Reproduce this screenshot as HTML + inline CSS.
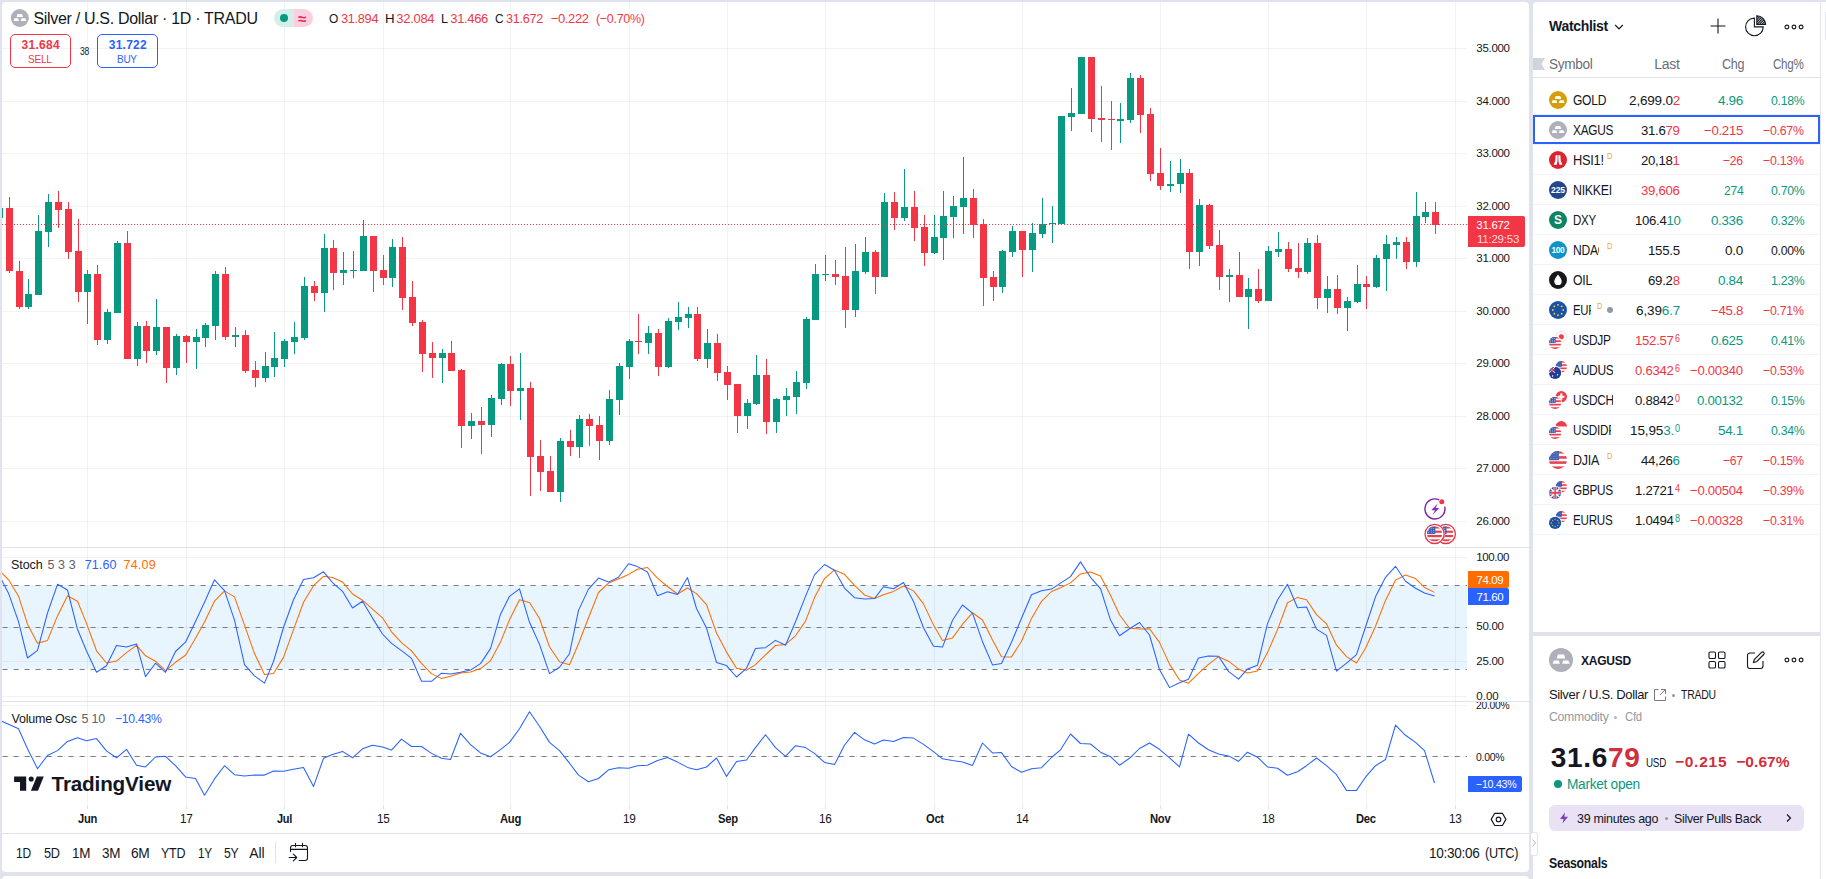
<!DOCTYPE html><html><head><meta charset="utf-8"><title>XAGUSD</title><style>
*{margin:0;padding:0;box-sizing:border-box}
html,body{width:1826px;height:879px;overflow:hidden}
body{background:#e0e3eb;font-family:"Liberation Sans",sans-serif;color:#131722;position:relative;font-size:13px}
.abs{position:absolute}
.t{position:absolute;white-space:nowrap}
.panel{position:absolute;background:#fff}
.box{position:absolute}
</style></head><body>
<div class="panel" style="left:2px;top:2px;width:1527px;height:870px;border-radius:4px;overflow:hidden" id="chart">
<svg width="1465" height="832" viewBox="2 2 1465 832" style="position:absolute;left:0;top:0">
<rect x="87" y="2" width="1" height="802" fill="rgba(42,46,57,0.06)"/>
<rect x="186" y="2" width="1" height="802" fill="rgba(42,46,57,0.06)"/>
<rect x="284" y="2" width="1" height="802" fill="rgba(42,46,57,0.06)"/>
<rect x="383" y="2" width="1" height="802" fill="rgba(42,46,57,0.06)"/>
<rect x="510" y="2" width="1" height="802" fill="rgba(42,46,57,0.06)"/>
<rect x="629" y="2" width="1" height="802" fill="rgba(42,46,57,0.06)"/>
<rect x="727" y="2" width="1" height="802" fill="rgba(42,46,57,0.06)"/>
<rect x="825" y="2" width="1" height="802" fill="rgba(42,46,57,0.06)"/>
<rect x="934" y="2" width="1" height="802" fill="rgba(42,46,57,0.06)"/>
<rect x="1022" y="2" width="1" height="802" fill="rgba(42,46,57,0.06)"/>
<rect x="1160" y="2" width="1" height="802" fill="rgba(42,46,57,0.06)"/>
<rect x="1268" y="2" width="1" height="802" fill="rgba(42,46,57,0.06)"/>
<rect x="1366" y="2" width="1" height="802" fill="rgba(42,46,57,0.06)"/>
<rect x="1455" y="2" width="1" height="802" fill="rgba(42,46,57,0.06)"/>
<rect x="2" y="48" width="1465" height="1" fill="rgba(42,46,57,0.06)"/>
<rect x="2" y="101" width="1465" height="1" fill="rgba(42,46,57,0.06)"/>
<rect x="2" y="153" width="1465" height="1" fill="rgba(42,46,57,0.06)"/>
<rect x="2" y="206" width="1465" height="1" fill="rgba(42,46,57,0.06)"/>
<rect x="2" y="258" width="1465" height="1" fill="rgba(42,46,57,0.06)"/>
<rect x="2" y="311" width="1465" height="1" fill="rgba(42,46,57,0.06)"/>
<rect x="2" y="363" width="1465" height="1" fill="rgba(42,46,57,0.06)"/>
<rect x="2" y="416" width="1465" height="1" fill="rgba(42,46,57,0.06)"/>
<rect x="2" y="468" width="1465" height="1" fill="rgba(42,46,57,0.06)"/>
<rect x="2" y="521" width="1465" height="1" fill="rgba(42,46,57,0.06)"/>
<rect x="2" y="557" width="1465" height="1" fill="rgba(42,46,57,0.06)"/>
<rect x="2" y="627" width="1465" height="1" fill="rgba(42,46,57,0.06)"/>
<rect x="2" y="661" width="1465" height="1" fill="rgba(42,46,57,0.06)"/>
<rect x="2" y="696" width="1465" height="1" fill="rgba(42,46,57,0.06)"/>
<rect x="2" y="705" width="1465" height="1" fill="rgba(42,46,57,0.06)"/>
<rect x="2" y="756" width="1465" height="1" fill="rgba(42,46,57,0.06)"/>
<rect x="2" y="585" width="1465" height="84" fill="rgba(33,150,243,0.1)"/>
<line x1="2.6" x2="1467" y1="585.5" y2="585.5" stroke="#787b86" stroke-width="1" stroke-dasharray="5 6"/>
<line x1="2.6" x2="1467" y1="627.5" y2="627.5" stroke="#787b86" stroke-width="1" stroke-dasharray="5 6"/>
<line x1="2.6" x2="1467" y1="669.5" y2="669.5" stroke="#787b86" stroke-width="1" stroke-dasharray="5 6"/>
<line x1="2.6" x2="1467" y1="756.5" y2="756.5" stroke="#787b86" stroke-width="1" stroke-dasharray="5 6"/>
<rect x="-1" y="207" width="1" height="13" fill="#089981"/>
<rect x="-4" y="208" width="7" height="10" fill="#089981"/>
<rect x="9" y="197" width="1" height="76" fill="#f23645"/>
<rect x="6" y="208" width="7" height="63" fill="#f23645"/>
<rect x="19" y="261" width="1" height="48" fill="#f23645"/>
<rect x="16" y="271" width="7" height="36" fill="#f23645"/>
<rect x="28" y="279" width="1" height="30" fill="#089981"/>
<rect x="25" y="294" width="7" height="13" fill="#089981"/>
<rect x="38" y="215" width="1" height="80" fill="#089981"/>
<rect x="35" y="231" width="7" height="64" fill="#089981"/>
<rect x="48" y="194" width="1" height="53" fill="#089981"/>
<rect x="45" y="202" width="7" height="30" fill="#089981"/>
<rect x="58" y="191" width="1" height="37" fill="#f23645"/>
<rect x="55" y="202" width="7" height="8" fill="#f23645"/>
<rect x="68" y="202" width="1" height="57" fill="#f23645"/>
<rect x="65" y="209" width="7" height="43" fill="#f23645"/>
<rect x="78" y="219" width="1" height="83" fill="#f23645"/>
<rect x="75" y="251" width="7" height="41" fill="#f23645"/>
<rect x="87" y="270" width="1" height="54" fill="#089981"/>
<rect x="84" y="274" width="7" height="18" fill="#089981"/>
<rect x="97" y="265" width="1" height="80" fill="#f23645"/>
<rect x="94" y="274" width="7" height="66" fill="#f23645"/>
<rect x="107" y="309" width="1" height="35" fill="#089981"/>
<rect x="104" y="312" width="7" height="28" fill="#089981"/>
<rect x="117" y="241" width="1" height="72" fill="#089981"/>
<rect x="114" y="243" width="7" height="70" fill="#089981"/>
<rect x="127" y="231" width="1" height="128" fill="#f23645"/>
<rect x="124" y="243" width="7" height="116" fill="#f23645"/>
<rect x="137" y="322" width="1" height="44" fill="#089981"/>
<rect x="134" y="326" width="7" height="33" fill="#089981"/>
<rect x="146" y="321" width="1" height="42" fill="#f23645"/>
<rect x="143" y="326" width="7" height="25" fill="#f23645"/>
<rect x="156" y="299" width="1" height="56" fill="#089981"/>
<rect x="153" y="327" width="7" height="24" fill="#089981"/>
<rect x="166" y="327" width="1" height="56" fill="#f23645"/>
<rect x="163" y="327" width="7" height="41" fill="#f23645"/>
<rect x="176" y="334" width="1" height="41" fill="#089981"/>
<rect x="173" y="336" width="7" height="32" fill="#089981"/>
<rect x="186" y="335" width="1" height="28" fill="#f23645"/>
<rect x="183" y="336" width="7" height="6" fill="#f23645"/>
<rect x="196" y="329" width="1" height="40" fill="#089981"/>
<rect x="193" y="337" width="7" height="5" fill="#089981"/>
<rect x="205" y="323" width="1" height="24" fill="#089981"/>
<rect x="202" y="325" width="7" height="13" fill="#089981"/>
<rect x="215" y="271" width="1" height="69" fill="#089981"/>
<rect x="212" y="274" width="7" height="52" fill="#089981"/>
<rect x="225" y="267" width="1" height="73" fill="#f23645"/>
<rect x="222" y="274" width="7" height="63" fill="#f23645"/>
<rect x="235" y="327" width="1" height="20" fill="#089981"/>
<rect x="232" y="335" width="7" height="2" fill="#089981"/>
<rect x="245" y="330" width="1" height="43" fill="#f23645"/>
<rect x="242" y="335" width="7" height="36" fill="#f23645"/>
<rect x="255" y="361" width="1" height="26" fill="#f23645"/>
<rect x="252" y="370" width="7" height="8" fill="#f23645"/>
<rect x="265" y="352" width="1" height="30" fill="#089981"/>
<rect x="262" y="366" width="7" height="12" fill="#089981"/>
<rect x="274" y="332" width="1" height="45" fill="#089981"/>
<rect x="271" y="358" width="7" height="9" fill="#089981"/>
<rect x="284" y="339" width="1" height="28" fill="#089981"/>
<rect x="281" y="341" width="7" height="18" fill="#089981"/>
<rect x="294" y="322" width="1" height="32" fill="#089981"/>
<rect x="291" y="337" width="7" height="5" fill="#089981"/>
<rect x="304" y="277" width="1" height="63" fill="#089981"/>
<rect x="301" y="286" width="7" height="52" fill="#089981"/>
<rect x="314" y="281" width="1" height="20" fill="#f23645"/>
<rect x="311" y="286" width="7" height="7" fill="#f23645"/>
<rect x="324" y="234" width="1" height="78" fill="#089981"/>
<rect x="321" y="248" width="7" height="45" fill="#089981"/>
<rect x="333" y="240" width="1" height="50" fill="#f23645"/>
<rect x="330" y="248" width="7" height="25" fill="#f23645"/>
<rect x="343" y="252" width="1" height="33" fill="#089981"/>
<rect x="340" y="270" width="7" height="3" fill="#089981"/>
<rect x="353" y="251" width="1" height="27" fill="#089981"/>
<rect x="350" y="270" width="7" height="1" fill="#089981"/>
<rect x="363" y="220" width="1" height="51" fill="#089981"/>
<rect x="360" y="236" width="7" height="35" fill="#089981"/>
<rect x="373" y="236" width="1" height="56" fill="#f23645"/>
<rect x="370" y="236" width="7" height="35" fill="#f23645"/>
<rect x="383" y="255" width="1" height="30" fill="#f23645"/>
<rect x="380" y="270" width="7" height="8" fill="#f23645"/>
<rect x="392" y="239" width="1" height="48" fill="#089981"/>
<rect x="389" y="247" width="7" height="31" fill="#089981"/>
<rect x="402" y="237" width="1" height="73" fill="#f23645"/>
<rect x="399" y="247" width="7" height="51" fill="#f23645"/>
<rect x="412" y="281" width="1" height="45" fill="#f23645"/>
<rect x="409" y="297" width="7" height="26" fill="#f23645"/>
<rect x="422" y="320" width="1" height="52" fill="#f23645"/>
<rect x="419" y="322" width="7" height="32" fill="#f23645"/>
<rect x="432" y="342" width="1" height="36" fill="#f23645"/>
<rect x="429" y="353" width="7" height="5" fill="#f23645"/>
<rect x="442" y="349" width="1" height="34" fill="#089981"/>
<rect x="439" y="353" width="7" height="5" fill="#089981"/>
<rect x="451" y="341" width="1" height="30" fill="#f23645"/>
<rect x="448" y="353" width="7" height="18" fill="#f23645"/>
<rect x="461" y="369" width="1" height="79" fill="#f23645"/>
<rect x="458" y="370" width="7" height="56" fill="#f23645"/>
<rect x="471" y="413" width="1" height="26" fill="#089981"/>
<rect x="468" y="421" width="7" height="5" fill="#089981"/>
<rect x="481" y="407" width="1" height="47" fill="#f23645"/>
<rect x="478" y="421" width="7" height="4" fill="#f23645"/>
<rect x="491" y="395" width="1" height="42" fill="#089981"/>
<rect x="488" y="398" width="7" height="27" fill="#089981"/>
<rect x="501" y="363" width="1" height="42" fill="#089981"/>
<rect x="498" y="364" width="7" height="35" fill="#089981"/>
<rect x="510" y="356" width="1" height="50" fill="#f23645"/>
<rect x="507" y="364" width="7" height="27" fill="#f23645"/>
<rect x="520" y="353" width="1" height="67" fill="#089981"/>
<rect x="517" y="388" width="7" height="3" fill="#089981"/>
<rect x="530" y="382" width="1" height="114" fill="#f23645"/>
<rect x="527" y="388" width="7" height="69" fill="#f23645"/>
<rect x="540" y="440" width="1" height="51" fill="#f23645"/>
<rect x="537" y="456" width="7" height="16" fill="#f23645"/>
<rect x="550" y="456" width="1" height="36" fill="#f23645"/>
<rect x="547" y="471" width="7" height="21" fill="#f23645"/>
<rect x="560" y="438" width="1" height="64" fill="#089981"/>
<rect x="557" y="441" width="7" height="51" fill="#089981"/>
<rect x="570" y="430" width="1" height="26" fill="#f23645"/>
<rect x="567" y="441" width="7" height="6" fill="#f23645"/>
<rect x="579" y="415" width="1" height="43" fill="#089981"/>
<rect x="576" y="419" width="7" height="28" fill="#089981"/>
<rect x="589" y="414" width="1" height="32" fill="#f23645"/>
<rect x="586" y="419" width="7" height="7" fill="#f23645"/>
<rect x="599" y="416" width="1" height="44" fill="#f23645"/>
<rect x="596" y="425" width="7" height="16" fill="#f23645"/>
<rect x="609" y="390" width="1" height="55" fill="#089981"/>
<rect x="606" y="399" width="7" height="42" fill="#089981"/>
<rect x="619" y="363" width="1" height="52" fill="#089981"/>
<rect x="616" y="366" width="7" height="34" fill="#089981"/>
<rect x="629" y="339" width="1" height="40" fill="#089981"/>
<rect x="626" y="341" width="7" height="26" fill="#089981"/>
<rect x="638" y="314" width="1" height="40" fill="#f23645"/>
<rect x="635" y="341" width="7" height="1" fill="#f23645"/>
<rect x="648" y="326" width="1" height="28" fill="#089981"/>
<rect x="645" y="333" width="7" height="10" fill="#089981"/>
<rect x="658" y="329" width="1" height="47" fill="#f23645"/>
<rect x="655" y="333" width="7" height="34" fill="#f23645"/>
<rect x="668" y="318" width="1" height="50" fill="#089981"/>
<rect x="665" y="321" width="7" height="46" fill="#089981"/>
<rect x="678" y="302" width="1" height="28" fill="#089981"/>
<rect x="675" y="317" width="7" height="5" fill="#089981"/>
<rect x="688" y="307" width="1" height="21" fill="#089981"/>
<rect x="685" y="314" width="7" height="4" fill="#089981"/>
<rect x="697" y="307" width="1" height="54" fill="#f23645"/>
<rect x="694" y="314" width="7" height="45" fill="#f23645"/>
<rect x="707" y="329" width="1" height="39" fill="#089981"/>
<rect x="704" y="343" width="7" height="16" fill="#089981"/>
<rect x="717" y="334" width="1" height="47" fill="#f23645"/>
<rect x="714" y="343" width="7" height="30" fill="#f23645"/>
<rect x="727" y="366" width="1" height="34" fill="#f23645"/>
<rect x="724" y="372" width="7" height="13" fill="#f23645"/>
<rect x="737" y="384" width="1" height="49" fill="#f23645"/>
<rect x="734" y="384" width="7" height="32" fill="#f23645"/>
<rect x="747" y="399" width="1" height="30" fill="#089981"/>
<rect x="744" y="403" width="7" height="13" fill="#089981"/>
<rect x="756" y="355" width="1" height="50" fill="#089981"/>
<rect x="753" y="375" width="7" height="29" fill="#089981"/>
<rect x="766" y="359" width="1" height="75" fill="#f23645"/>
<rect x="763" y="375" width="7" height="47" fill="#f23645"/>
<rect x="776" y="398" width="1" height="35" fill="#089981"/>
<rect x="773" y="399" width="7" height="23" fill="#089981"/>
<rect x="786" y="388" width="1" height="28" fill="#089981"/>
<rect x="783" y="396" width="7" height="4" fill="#089981"/>
<rect x="796" y="371" width="1" height="43" fill="#089981"/>
<rect x="793" y="382" width="7" height="15" fill="#089981"/>
<rect x="806" y="317" width="1" height="72" fill="#089981"/>
<rect x="803" y="319" width="7" height="64" fill="#089981"/>
<rect x="815" y="264" width="1" height="56" fill="#089981"/>
<rect x="812" y="274" width="7" height="46" fill="#089981"/>
<rect x="825" y="255" width="1" height="26" fill="#089981"/>
<rect x="822" y="274" width="7" height="1" fill="#089981"/>
<rect x="835" y="260" width="1" height="25" fill="#f23645"/>
<rect x="832" y="274" width="7" height="3" fill="#f23645"/>
<rect x="845" y="247" width="1" height="81" fill="#f23645"/>
<rect x="842" y="276" width="7" height="34" fill="#f23645"/>
<rect x="855" y="244" width="1" height="73" fill="#089981"/>
<rect x="852" y="271" width="7" height="39" fill="#089981"/>
<rect x="865" y="237" width="1" height="37" fill="#089981"/>
<rect x="862" y="252" width="7" height="20" fill="#089981"/>
<rect x="875" y="250" width="1" height="44" fill="#f23645"/>
<rect x="872" y="252" width="7" height="25" fill="#f23645"/>
<rect x="884" y="193" width="1" height="84" fill="#089981"/>
<rect x="881" y="202" width="7" height="75" fill="#089981"/>
<rect x="894" y="192" width="1" height="38" fill="#f23645"/>
<rect x="891" y="202" width="7" height="16" fill="#f23645"/>
<rect x="904" y="169" width="1" height="52" fill="#089981"/>
<rect x="901" y="207" width="7" height="11" fill="#089981"/>
<rect x="914" y="191" width="1" height="50" fill="#f23645"/>
<rect x="911" y="207" width="7" height="21" fill="#f23645"/>
<rect x="924" y="215" width="1" height="51" fill="#f23645"/>
<rect x="921" y="227" width="7" height="26" fill="#f23645"/>
<rect x="934" y="215" width="1" height="39" fill="#089981"/>
<rect x="931" y="237" width="7" height="16" fill="#089981"/>
<rect x="943" y="191" width="1" height="69" fill="#089981"/>
<rect x="940" y="216" width="7" height="22" fill="#089981"/>
<rect x="953" y="196" width="1" height="42" fill="#089981"/>
<rect x="950" y="206" width="7" height="11" fill="#089981"/>
<rect x="963" y="157" width="1" height="77" fill="#089981"/>
<rect x="960" y="198" width="7" height="9" fill="#089981"/>
<rect x="973" y="189" width="1" height="49" fill="#f23645"/>
<rect x="970" y="198" width="7" height="27" fill="#f23645"/>
<rect x="983" y="219" width="1" height="87" fill="#f23645"/>
<rect x="980" y="224" width="7" height="54" fill="#f23645"/>
<rect x="993" y="271" width="1" height="30" fill="#f23645"/>
<rect x="990" y="277" width="7" height="10" fill="#f23645"/>
<rect x="1002" y="250" width="1" height="43" fill="#089981"/>
<rect x="999" y="251" width="7" height="36" fill="#089981"/>
<rect x="1012" y="226" width="1" height="31" fill="#089981"/>
<rect x="1009" y="231" width="7" height="21" fill="#089981"/>
<rect x="1022" y="231" width="1" height="46" fill="#f23645"/>
<rect x="1019" y="231" width="7" height="19" fill="#f23645"/>
<rect x="1032" y="223" width="1" height="49" fill="#089981"/>
<rect x="1029" y="233" width="7" height="17" fill="#089981"/>
<rect x="1042" y="198" width="1" height="40" fill="#089981"/>
<rect x="1039" y="224" width="7" height="10" fill="#089981"/>
<rect x="1052" y="206" width="1" height="37" fill="#089981"/>
<rect x="1049" y="223" width="7" height="1" fill="#089981"/>
<rect x="1061" y="116" width="1" height="108" fill="#089981"/>
<rect x="1058" y="116" width="7" height="108" fill="#089981"/>
<rect x="1071" y="88" width="1" height="43" fill="#089981"/>
<rect x="1068" y="113" width="7" height="4" fill="#089981"/>
<rect x="1081" y="57" width="1" height="57" fill="#089981"/>
<rect x="1078" y="57" width="7" height="57" fill="#089981"/>
<rect x="1091" y="57" width="1" height="75" fill="#f23645"/>
<rect x="1088" y="57" width="7" height="62" fill="#f23645"/>
<rect x="1101" y="86" width="1" height="56" fill="#f23645"/>
<rect x="1098" y="118" width="7" height="2" fill="#f23645"/>
<rect x="1111" y="101" width="1" height="49" fill="#f23645"/>
<rect x="1108" y="119" width="7" height="1" fill="#f23645"/>
<rect x="1120" y="103" width="1" height="40" fill="#089981"/>
<rect x="1117" y="119" width="7" height="2" fill="#089981"/>
<rect x="1130" y="73" width="1" height="50" fill="#089981"/>
<rect x="1127" y="78" width="7" height="42" fill="#089981"/>
<rect x="1140" y="75" width="1" height="58" fill="#f23645"/>
<rect x="1137" y="78" width="7" height="37" fill="#f23645"/>
<rect x="1150" y="108" width="1" height="73" fill="#f23645"/>
<rect x="1147" y="114" width="7" height="60" fill="#f23645"/>
<rect x="1160" y="148" width="1" height="42" fill="#f23645"/>
<rect x="1157" y="173" width="7" height="13" fill="#f23645"/>
<rect x="1170" y="161" width="1" height="31" fill="#089981"/>
<rect x="1167" y="184" width="7" height="2" fill="#089981"/>
<rect x="1180" y="159" width="1" height="34" fill="#089981"/>
<rect x="1177" y="173" width="7" height="11" fill="#089981"/>
<rect x="1189" y="169" width="1" height="100" fill="#f23645"/>
<rect x="1186" y="173" width="7" height="79" fill="#f23645"/>
<rect x="1199" y="199" width="1" height="67" fill="#089981"/>
<rect x="1196" y="205" width="7" height="47" fill="#089981"/>
<rect x="1209" y="204" width="1" height="45" fill="#f23645"/>
<rect x="1206" y="205" width="7" height="41" fill="#f23645"/>
<rect x="1219" y="230" width="1" height="60" fill="#f23645"/>
<rect x="1216" y="245" width="7" height="32" fill="#f23645"/>
<rect x="1229" y="269" width="1" height="33" fill="#089981"/>
<rect x="1226" y="275" width="7" height="2" fill="#089981"/>
<rect x="1239" y="252" width="1" height="45" fill="#f23645"/>
<rect x="1236" y="275" width="7" height="22" fill="#f23645"/>
<rect x="1248" y="278" width="1" height="51" fill="#089981"/>
<rect x="1245" y="289" width="7" height="8" fill="#089981"/>
<rect x="1258" y="269" width="1" height="34" fill="#f23645"/>
<rect x="1255" y="289" width="7" height="12" fill="#f23645"/>
<rect x="1268" y="246" width="1" height="55" fill="#089981"/>
<rect x="1265" y="251" width="7" height="50" fill="#089981"/>
<rect x="1278" y="232" width="1" height="25" fill="#089981"/>
<rect x="1275" y="249" width="7" height="3" fill="#089981"/>
<rect x="1288" y="242" width="1" height="30" fill="#f23645"/>
<rect x="1285" y="249" width="7" height="20" fill="#f23645"/>
<rect x="1298" y="243" width="1" height="35" fill="#f23645"/>
<rect x="1295" y="268" width="7" height="4" fill="#f23645"/>
<rect x="1307" y="238" width="1" height="36" fill="#089981"/>
<rect x="1304" y="243" width="7" height="29" fill="#089981"/>
<rect x="1317" y="235" width="1" height="74" fill="#f23645"/>
<rect x="1314" y="243" width="7" height="55" fill="#f23645"/>
<rect x="1327" y="276" width="1" height="37" fill="#089981"/>
<rect x="1324" y="289" width="7" height="9" fill="#089981"/>
<rect x="1337" y="275" width="1" height="39" fill="#f23645"/>
<rect x="1334" y="289" width="7" height="19" fill="#f23645"/>
<rect x="1347" y="297" width="1" height="34" fill="#089981"/>
<rect x="1344" y="301" width="7" height="7" fill="#089981"/>
<rect x="1357" y="265" width="1" height="38" fill="#089981"/>
<rect x="1354" y="284" width="7" height="18" fill="#089981"/>
<rect x="1366" y="276" width="1" height="33" fill="#f23645"/>
<rect x="1363" y="284" width="7" height="3" fill="#f23645"/>
<rect x="1376" y="255" width="1" height="33" fill="#089981"/>
<rect x="1373" y="258" width="7" height="29" fill="#089981"/>
<rect x="1386" y="235" width="1" height="56" fill="#089981"/>
<rect x="1383" y="244" width="7" height="15" fill="#089981"/>
<rect x="1396" y="237" width="1" height="22" fill="#089981"/>
<rect x="1393" y="242" width="7" height="3" fill="#089981"/>
<rect x="1406" y="237" width="1" height="32" fill="#f23645"/>
<rect x="1403" y="242" width="7" height="20" fill="#f23645"/>
<rect x="1416" y="192" width="1" height="75" fill="#089981"/>
<rect x="1413" y="216" width="7" height="46" fill="#089981"/>
<rect x="1425" y="202" width="1" height="21" fill="#089981"/>
<rect x="1422" y="212" width="7" height="5" fill="#089981"/>
<rect x="1435" y="202" width="1" height="32" fill="#f23645"/>
<rect x="1432" y="212" width="7" height="13" fill="#f23645"/>
<line x1="2" x2="1467" y1="224.5" y2="224.5" stroke="#f23645" stroke-width="1" stroke-dasharray="1 2"/>
<polyline points="-1.5,569.8 8.5,579.6 18.5,596.2 27.5,624.2 37.5,643.3 47.5,640.4 57.5,615.9 67.5,595.8 77.5,601.2 86.5,623.4 96.5,650.8 106.5,663.0 116.5,661.1 126.5,652.7 136.5,645.4 145.5,655.8 155.5,661.2 165.5,670.7 175.5,662.3 185.5,655.3 195.5,638.3 204.5,622.0 214.5,601.2 224.5,590.9 234.5,596.9 244.5,625.2 254.5,653.6 264.5,674.5 273.5,673.5 283.5,657.4 293.5,629.6 303.5,602.3 313.5,585.7 323.5,576.3 332.5,577.4 342.5,581.9 352.5,594.0 362.5,600.2 372.5,609.1 382.5,617.8 391.5,631.8 401.5,642.7 411.5,650.8 421.5,663.4 431.5,673.6 441.5,678.6 450.5,676.2 460.5,673.1 470.5,672.1 480.5,668.6 490.5,660.8 500.5,642.1 509.5,619.7 519.5,599.8 529.5,602.5 539.5,618.5 549.5,646.7 559.5,661.7 569.5,664.8 578.5,643.8 588.5,617.7 598.5,592.5 608.5,583.1 618.5,579.1 628.5,574.4 637.5,569.2 647.5,567.5 657.5,578.1 667.5,586.5 677.5,594.0 687.5,588.0 696.5,593.6 706.5,604.7 716.5,633.0 726.5,652.1 736.5,668.3 746.5,670.3 755.5,664.6 765.5,654.8 775.5,645.5 785.5,644.4 795.5,635.8 805.5,621.1 814.5,597.6 824.5,578.6 834.5,569.9 844.5,574.3 854.5,585.3 864.5,594.9 874.5,598.4 883.5,594.7 893.5,591.4 903.5,586.0 913.5,590.9 923.5,603.9 933.5,625.1 942.5,640.4 952.5,637.9 962.5,624.2 972.5,612.8 982.5,620.0 992.5,639.9 1001.5,656.7 1011.5,656.9 1021.5,641.3 1031.5,618.4 1041.5,601.3 1051.5,591.5 1060.5,587.7 1070.5,582.9 1080.5,573.9 1090.5,571.9 1100.5,575.9 1110.5,595.3 1119.5,614.8 1129.5,628.2 1139.5,629.0 1149.5,628.8 1159.5,642.4 1169.5,664.1 1179.5,680.0 1188.5,683.2 1198.5,673.3 1208.5,664.4 1218.5,656.7 1228.5,661.2 1238.5,668.9 1247.5,673.1 1257.5,671.1 1267.5,652.6 1277.5,629.6 1287.5,602.7 1297.5,597.4 1306.5,599.7 1316.5,614.6 1326.5,623.8 1336.5,645.2 1346.5,656.6 1356.5,663.0 1365.5,648.3 1375.5,626.2 1385.5,600.4 1395.5,580.1 1405.5,575.0 1415.5,578.6 1424.5,587.5 1434.5,592.4" fill="none" stroke="#ff6d00" stroke-width="1.05" stroke-linejoin="round"/>
<polyline points="-1.5,573.8 8.5,593.2 18.5,621.6 27.5,658.0 37.5,650.3 47.5,613.0 57.5,584.3 67.5,590.0 77.5,629.3 86.5,651.0 96.5,672.3 106.5,665.7 116.5,645.4 126.5,646.9 136.5,643.9 145.5,676.6 155.5,663.2 165.5,672.3 175.5,651.5 185.5,642.2 195.5,621.4 204.5,602.3 214.5,579.8 224.5,590.6 234.5,620.2 244.5,664.7 254.5,675.8 264.5,683.1 273.5,661.5 283.5,627.5 293.5,599.8 303.5,579.5 313.5,577.7 323.5,571.8 332.5,582.7 342.5,591.3 352.5,608.0 362.5,601.2 372.5,618.1 382.5,634.0 391.5,643.3 401.5,650.7 411.5,658.4 421.5,681.2 431.5,681.3 441.5,673.2 450.5,673.9 460.5,672.2 470.5,670.1 480.5,663.6 490.5,648.6 500.5,614.2 509.5,596.3 519.5,588.9 529.5,622.3 539.5,644.4 549.5,673.6 559.5,667.2 569.5,653.7 578.5,610.4 588.5,589.1 598.5,578.1 608.5,582.1 618.5,577.3 628.5,563.8 637.5,566.6 647.5,572.0 657.5,595.7 667.5,591.8 677.5,594.5 687.5,577.6 696.5,608.5 706.5,628.1 716.5,662.4 726.5,665.6 736.5,677.0 746.5,668.3 755.5,648.5 765.5,647.7 775.5,640.4 785.5,645.3 795.5,621.7 805.5,596.4 814.5,574.9 824.5,564.5 834.5,570.2 844.5,588.1 854.5,597.7 864.5,598.9 874.5,598.6 883.5,586.7 893.5,588.8 903.5,582.5 913.5,601.4 923.5,627.7 933.5,646.3 942.5,647.1 952.5,620.3 962.5,605.0 972.5,613.1 982.5,641.7 992.5,664.9 1001.5,663.5 1011.5,642.3 1021.5,618.2 1031.5,594.7 1041.5,590.8 1051.5,589.1 1060.5,583.1 1070.5,576.6 1080.5,561.9 1090.5,577.3 1100.5,588.6 1110.5,620.1 1119.5,635.8 1129.5,628.7 1139.5,622.5 1149.5,635.0 1159.5,669.6 1169.5,687.6 1179.5,682.7 1188.5,679.3 1198.5,658.0 1208.5,656.0 1218.5,656.3 1228.5,671.4 1238.5,679.1 1247.5,668.9 1257.5,665.2 1267.5,623.6 1277.5,600.0 1287.5,584.3 1297.5,607.7 1306.5,607.0 1316.5,629.1 1326.5,635.4 1336.5,671.1 1346.5,663.2 1356.5,654.7 1365.5,627.0 1375.5,596.8 1385.5,577.3 1395.5,566.3 1405.5,581.3 1415.5,588.2 1424.5,593.0 1434.5,596.0" fill="none" stroke="#2962ff" stroke-width="1.05" stroke-linejoin="round"/>
<polyline points="-1.5,719.7 8.5,724.3 18.5,728.7 27.5,748.8 37.5,768.7 47.5,755.5 57.5,750.6 67.5,741.4 77.5,737.8 86.5,740.7 96.5,738.6 106.5,750.9 116.5,757.8 126.5,749.3 136.5,765.2 145.5,766.9 155.5,757.0 165.5,756.3 175.5,765.7 185.5,776.9 195.5,778.5 204.5,795.3 214.5,778.9 224.5,765.7 234.5,774.7 244.5,775.9 254.5,775.1 264.5,775.1 273.5,771.0 283.5,771.3 293.5,769.3 303.5,767.4 313.5,786.6 323.5,758.3 332.5,754.5 342.5,751.4 352.5,757.8 362.5,748.8 372.5,745.2 382.5,747.1 391.5,750.1 401.5,739.1 411.5,746.5 421.5,746.5 431.5,753.4 441.5,758.3 450.5,759.5 460.5,733.3 470.5,744.7 480.5,752.9 490.5,756.7 500.5,749.6 509.5,742.4 519.5,728.7 529.5,711.8 539.5,726.3 549.5,742.4 559.5,750.6 569.5,763.2 578.5,775.1 588.5,781.8 598.5,778.5 608.5,769.8 618.5,767.7 628.5,768.2 637.5,765.7 647.5,765.2 657.5,760.5 667.5,757.5 677.5,762.1 687.5,767.4 696.5,769.8 706.5,767.0 716.5,758.0 726.5,776.4 736.5,761.6 746.5,760.0 755.5,747.6 765.5,734.8 775.5,747.6 785.5,756.3 795.5,745.7 805.5,747.6 814.5,753.4 824.5,762.4 834.5,764.6 844.5,745.2 854.5,732.4 864.5,739.8 874.5,743.9 883.5,739.9 893.5,741.6 903.5,737.5 913.5,738.1 923.5,744.4 933.5,751.7 942.5,758.8 952.5,760.5 962.5,761.9 972.5,765.4 982.5,743.0 992.5,752.9 1001.5,752.6 1011.5,766.5 1021.5,772.3 1031.5,768.7 1041.5,767.7 1051.5,757.5 1060.5,749.8 1070.5,734.0 1080.5,743.5 1090.5,744.0 1100.5,752.2 1110.5,756.7 1119.5,765.2 1129.5,758.3 1139.5,748.5 1149.5,743.0 1159.5,749.3 1169.5,757.8 1179.5,766.9 1188.5,734.2 1198.5,743.0 1208.5,749.8 1218.5,753.9 1228.5,755.9 1238.5,761.3 1247.5,752.2 1257.5,757.2 1267.5,766.9 1277.5,768.2 1287.5,775.2 1297.5,771.8 1306.5,765.7 1316.5,758.0 1326.5,765.7 1336.5,774.7 1346.5,790.4 1356.5,790.4 1365.5,777.2 1375.5,765.7 1385.5,759.5 1395.5,725.1 1405.5,735.3 1415.5,742.4 1424.5,750.6 1434.5,783.0" fill="none" stroke="#2962ff" stroke-width="1.05" stroke-linejoin="round"/>
</svg>
</div>
<div class="panel" style="left:2px;top:876px;width:1527px;height:10px;border-radius:4px 4px 0 0"></div>
<div class="panel" style="left:1533px;top:2px;width:287px;height:630px;border-radius:4px 0 0 0"></div>
<div class="panel" style="left:1533px;top:636px;width:287px;height:250px"></div>
<div class="panel" style="left:1821px;top:2px;width:5px;height:880px"></div>
<div class="box" style="left:2px;top:547px;width:1527px;height:1px;background:#e0e3eb"></div>
<div class="box" style="left:2px;top:701px;width:1527px;height:1px;background:#e0e3eb"></div>
<div class="box" style="left:2px;top:833px;width:1527px;height:1px;background:#e0e3eb"></div>
<!--ICON_SILVER_SMALL-->
<div class="t" style="top:9.90px;font-size:16px;line-height:17px;color:#131722;letter-spacing:-0.307px;left:33.40px;">Silver / U.S. Dollar · 1D · TRADU</div>
<div class="box" style="left:274px;top:9px;width:20px;height:18px;background:#d4efe9;border-radius:9px 0 0 9px"></div>
<div class="box" style="left:294px;top:9px;width:19px;height:18px;background:#fbd0de;border-radius:0 9px 9px 0"></div>
<div class="box" style="left:280px;top:14px;width:8px;height:8px;background:#089981;border-radius:50%"></div>
<div class="t" style="top:10.00px;font-size:15px;line-height:17px;color:#e91e63;letter-spacing:0.000px;font-weight:bold;left:298.00px;">≈</div>
<div class="t" style="top:11.20px;font-size:13px;line-height:15px;color:#131722;letter-spacing:0.000px;transform:scaleX(0.9197);transform-origin:0 0;left:329.30px;">O</div>
<div class="t" style="top:11.20px;font-size:13px;line-height:15px;color:#f23645;letter-spacing:-0.300px;transform:scaleX(0.9801);transform-origin:0 0;left:341.30px;">31.894</div>
<div class="t" style="top:11.20px;font-size:13px;line-height:15px;color:#131722;letter-spacing:0.000px;transform:scaleX(1.0225);transform-origin:0 0;left:384.60px;">H</div>
<div class="t" style="top:11.20px;font-size:13px;line-height:15px;color:#f23645;letter-spacing:-0.293px;left:396.30px;">32.084</div>
<div class="t" style="top:11.20px;font-size:13px;line-height:15px;color:#131722;letter-spacing:0.000px;transform:scaleX(0.9682);transform-origin:0 0;left:440.60px;">L</div>
<div class="t" style="top:11.20px;font-size:13px;line-height:15px;color:#f23645;letter-spacing:-0.353px;left:450.30px;">31.466</div>
<div class="t" style="top:11.20px;font-size:13px;line-height:15px;color:#131722;letter-spacing:0.000px;transform:scaleX(0.9160);transform-origin:0 0;left:495.00px;">C</div>
<div class="t" style="top:11.20px;font-size:13px;line-height:15px;color:#f23645;letter-spacing:-0.300px;transform:scaleX(0.9722);transform-origin:0 0;left:505.80px;">31.672</div>
<div class="t" style="top:11.20px;font-size:13px;line-height:15px;color:#f23645;letter-spacing:-0.365px;left:550.70px;">−0.222</div>
<div class="t" style="top:11.20px;font-size:13px;line-height:15px;color:#f23645;letter-spacing:-0.300px;transform:scaleX(0.9586);transform-origin:0 0;left:595.60px;">(−0.70%)</div>
<div class="box" style="left:10px;top:34px;width:61px;height:34px;border:1px solid #f23645;border-radius:5px"></div>
<div class="t" style="top:37.80px;font-size:12px;line-height:14px;color:#f23645;letter-spacing:0.259px;font-weight:bold;left:21.60px;">31.684</div>
<div class="t" style="top:52.90px;font-size:11px;line-height:12px;color:#f23645;letter-spacing:-0.300px;transform:scaleX(0.9150);transform-origin:0 0;left:27.90px;">SELL</div>
<div class="t" style="top:46.00px;font-size:10px;line-height:11px;color:#131722;letter-spacing:-0.300px;transform:scaleX(0.8592);transform-origin:0 0;left:79.60px;">38</div>
<div class="box" style="left:97px;top:34px;width:61px;height:34px;border:1px solid #2962ff;border-radius:5px"></div>
<div class="t" style="top:37.80px;font-size:12px;line-height:14px;color:#2962ff;letter-spacing:0.219px;font-weight:bold;left:108.80px;">31.722</div>
<div class="t" style="top:52.90px;font-size:11px;line-height:12px;color:#2962ff;letter-spacing:-0.300px;transform:scaleX(0.9083);transform-origin:0 0;left:117.30px;">BUY</div>
<div class="t" style="top:557.90px;font-size:12.5px;line-height:14px;color:#131722;letter-spacing:-0.116px;left:11.10px;">Stoch</div>
<div class="t" style="top:557.90px;font-size:12.5px;line-height:14px;color:#5d606b;letter-spacing:0.050px;left:47.60px;">5 3 3</div>
<div class="t" style="top:557.90px;font-size:12.5px;line-height:14px;color:#2962ff;letter-spacing:0.130px;left:84.70px;">71.60</div>
<div class="t" style="top:557.90px;font-size:12.5px;line-height:14px;color:#ff6d00;letter-spacing:0.180px;left:123.60px;">74.09</div>
<div class="t" style="top:711.60px;font-size:12.5px;line-height:14px;color:#131722;letter-spacing:-0.221px;left:11.50px;">Volume Osc</div>
<div class="t" style="top:711.60px;font-size:12.5px;line-height:14px;color:#5d606b;letter-spacing:-0.276px;left:81.60px;">5 10</div>
<div class="t" style="top:711.60px;font-size:12.5px;line-height:14px;color:#2962ff;letter-spacing:-0.300px;transform:scaleX(0.9771);transform-origin:0 0;left:115.00px;">−10.43%</div>
<div class="t" style="top:771.70px;font-size:20.7px;line-height:23px;color:#131722;letter-spacing:-0.175px;font-weight:bold;left:51.60px;">TradingView</div>
<div class="t" style="top:42.00px;font-size:11.5px;line-height:12px;color:#131722;letter-spacing:-0.295px;left:1476.30px;">35.000</div>
<div class="t" style="top:95.00px;font-size:11.5px;line-height:12px;color:#131722;letter-spacing:-0.295px;left:1476.30px;">34.000</div>
<div class="t" style="top:147.00px;font-size:11.5px;line-height:12px;color:#131722;letter-spacing:-0.295px;left:1476.30px;">33.000</div>
<div class="t" style="top:200.00px;font-size:11.5px;line-height:12px;color:#131722;letter-spacing:-0.295px;left:1476.30px;">32.000</div>
<div class="t" style="top:252.00px;font-size:11.5px;line-height:12px;color:#131722;letter-spacing:-0.295px;left:1476.30px;">31.000</div>
<div class="t" style="top:305.00px;font-size:11.5px;line-height:12px;color:#131722;letter-spacing:-0.295px;left:1476.30px;">30.000</div>
<div class="t" style="top:357.00px;font-size:11.5px;line-height:12px;color:#131722;letter-spacing:-0.295px;left:1476.30px;">29.000</div>
<div class="t" style="top:410.00px;font-size:11.5px;line-height:12px;color:#131722;letter-spacing:-0.295px;left:1476.30px;">28.000</div>
<div class="t" style="top:462.00px;font-size:11.5px;line-height:12px;color:#131722;letter-spacing:-0.295px;left:1476.30px;">27.000</div>
<div class="t" style="top:515.00px;font-size:11.5px;line-height:12px;color:#131722;letter-spacing:-0.295px;left:1476.30px;">26.000</div>
<div class="box" style="left:1468px;top:216px;width:57px;height:31px;background:#f23645;border-radius:0 2px 2px 0"></div>
<div class="t" style="top:218.50px;font-size:11.5px;line-height:12px;color:#fff;letter-spacing:-0.295px;left:1476.30px;">31.672</div>
<div class="t" style="top:232.80px;font-size:11.5px;line-height:12px;color:rgba(255,255,255,.82);letter-spacing:-0.230px;left:1477.00px;">11:29:53</div>
<div class="t" style="top:550.60px;font-size:11.5px;line-height:12px;color:#131722;letter-spacing:-0.415px;left:1476.30px;">100.00</div>
<div class="t" style="top:620.20px;font-size:11.5px;line-height:12px;color:#131722;letter-spacing:-0.270px;left:1476.30px;">50.00</div>
<div class="t" style="top:655.10px;font-size:11.5px;line-height:12px;color:#131722;letter-spacing:-0.270px;left:1476.30px;">25.00</div>
<div class="t" style="top:689.90px;font-size:11.5px;line-height:12px;color:#131722;letter-spacing:0.006px;left:1476.30px;">0.00</div>
<div class="box" style="left:1468px;top:571px;width:41px;height:17px;background:#ff6d00;border-radius:0 2px 2px 0"></div>
<div class="t" style="top:573.80px;font-size:11.5px;line-height:12px;color:#fff;letter-spacing:-0.370px;left:1476.40px;">74.09</div>
<div class="box" style="left:1468px;top:588px;width:41px;height:17px;background:#2962ff;border-radius:0 2px 2px 0"></div>
<div class="t" style="top:590.80px;font-size:11.5px;line-height:12px;color:#fff;letter-spacing:-0.370px;left:1476.40px;">71.60</div>
<div class="abs" style="left:1468px;top:702px;width:61px;height:20px;overflow:hidden"><div class="t" style="top:-2.70px;font-size:11.5px;line-height:12px;color:#131722;letter-spacing:-0.300px;transform:scaleX(0.8986);transform-origin:0 0;left:8.30px;">20.00%</div></div>
<div class="t" style="top:750.60px;font-size:11.5px;line-height:12px;color:#131722;letter-spacing:-0.300px;transform:scaleX(0.9074);transform-origin:0 0;left:1476.30px;">0.00%</div>
<div class="box" style="left:1468px;top:776px;width:54px;height:16px;background:#2962ff;border-radius:0 2px 2px 0"></div>
<div class="t" style="top:778.20px;font-size:11.5px;line-height:12px;color:#fff;letter-spacing:-0.300px;transform:scaleX(0.9244);transform-origin:0 0;left:1476.40px;">−10.43%</div>
<div class="box" style="left:87px;top:805px;width:1px;height:4px;background:#e0e3eb"></div>
<div class="t" style="top:812.30px;font-size:12px;line-height:14px;color:#131722;letter-spacing:-0.300px;font-weight:bold;transform:scaleX(0.9325);transform-origin:0 0;left:77.83px;">Jun</div>
<div class="box" style="left:186px;top:805px;width:1px;height:4px;background:#e0e3eb"></div>
<div class="t" style="top:812.30px;font-size:12px;line-height:14px;color:#131722;letter-spacing:-0.300px;transform:scaleX(0.9770);transform-origin:0 0;left:180.13px;">17</div>
<div class="box" style="left:284px;top:805px;width:1px;height:4px;background:#e0e3eb"></div>
<div class="t" style="top:812.30px;font-size:12px;line-height:14px;color:#131722;letter-spacing:-0.300px;font-weight:bold;transform:scaleX(0.9164);transform-origin:0 0;left:276.83px;">Jul</div>
<div class="box" style="left:383px;top:805px;width:1px;height:4px;background:#e0e3eb"></div>
<div class="t" style="top:812.30px;font-size:12px;line-height:14px;color:#131722;letter-spacing:-0.300px;transform:scaleX(0.9770);transform-origin:0 0;left:377.13px;">15</div>
<div class="box" style="left:510px;top:805px;width:1px;height:4px;background:#e0e3eb"></div>
<div class="t" style="top:812.30px;font-size:12px;line-height:14px;color:#131722;letter-spacing:-0.300px;font-weight:bold;transform:scaleX(0.9384);transform-origin:0 0;left:499.84px;">Aug</div>
<div class="box" style="left:629px;top:805px;width:1px;height:4px;background:#e0e3eb"></div>
<div class="t" style="top:812.30px;font-size:12px;line-height:14px;color:#131722;letter-spacing:-0.300px;transform:scaleX(0.9770);transform-origin:0 0;left:623.13px;">19</div>
<div class="box" style="left:727px;top:805px;width:1px;height:4px;background:#e0e3eb"></div>
<div class="t" style="top:812.30px;font-size:12px;line-height:14px;color:#131722;letter-spacing:-0.300px;font-weight:bold;transform:scaleX(0.9346);transform-origin:0 0;left:717.50px;">Sep</div>
<div class="box" style="left:825px;top:805px;width:1px;height:4px;background:#e0e3eb"></div>
<div class="t" style="top:812.30px;font-size:12px;line-height:14px;color:#131722;letter-spacing:-0.300px;transform:scaleX(0.9770);transform-origin:0 0;left:819.13px;">16</div>
<div class="box" style="left:934px;top:805px;width:1px;height:4px;background:#e0e3eb"></div>
<div class="t" style="top:812.30px;font-size:12px;line-height:14px;color:#131722;letter-spacing:-0.300px;font-weight:bold;transform:scaleX(0.9279);transform-origin:0 0;left:925.50px;">Oct</div>
<div class="box" style="left:1022px;top:805px;width:1px;height:4px;background:#e0e3eb"></div>
<div class="t" style="top:812.30px;font-size:12px;line-height:14px;color:#131722;letter-spacing:-0.300px;transform:scaleX(0.9770);transform-origin:0 0;left:1016.13px;">14</div>
<div class="box" style="left:1160px;top:805px;width:1px;height:4px;background:#e0e3eb"></div>
<div class="t" style="top:812.30px;font-size:12px;line-height:14px;color:#131722;letter-spacing:-0.300px;font-weight:bold;transform:scaleX(0.9366);transform-origin:0 0;left:1150.16px;">Nov</div>
<div class="box" style="left:1268px;top:805px;width:1px;height:4px;background:#e0e3eb"></div>
<div class="t" style="top:812.30px;font-size:12px;line-height:14px;color:#131722;letter-spacing:-0.300px;transform:scaleX(0.9770);transform-origin:0 0;left:1262.13px;">18</div>
<div class="box" style="left:1366px;top:805px;width:1px;height:4px;background:#e0e3eb"></div>
<div class="t" style="top:812.30px;font-size:12px;line-height:14px;color:#131722;letter-spacing:-0.300px;font-weight:bold;transform:scaleX(0.9346);transform-origin:0 0;left:1356.49px;">Dec</div>
<div class="box" style="left:1455px;top:805px;width:1px;height:4px;background:#e0e3eb"></div>
<div class="t" style="top:812.30px;font-size:12px;line-height:14px;color:#131722;letter-spacing:-0.300px;transform:scaleX(0.9770);transform-origin:0 0;left:1449.13px;">13</div>
<!--HEX-->
<div class="t" style="top:844.70px;font-size:14px;line-height:16px;color:#131722;letter-spacing:-0.300px;transform:scaleX(0.8524);transform-origin:0 0;left:16.00px;">1D</div>
<div class="t" style="top:844.70px;font-size:14px;line-height:16px;color:#131722;letter-spacing:-0.300px;transform:scaleX(0.9092);transform-origin:0 0;left:43.50px;">5D</div>
<div class="t" style="top:844.70px;font-size:14px;line-height:16px;color:#131722;letter-spacing:-0.300px;transform:scaleX(0.9609);transform-origin:0 0;left:71.80px;">1M</div>
<div class="t" style="top:844.70px;font-size:14px;line-height:16px;color:#131722;letter-spacing:-0.300px;transform:scaleX(0.9609);transform-origin:0 0;left:101.60px;">3M</div>
<div class="t" style="top:844.70px;font-size:14px;line-height:16px;color:#131722;letter-spacing:-0.300px;transform:scaleX(0.9818);transform-origin:0 0;left:131.00px;">6M</div>
<div class="t" style="top:844.70px;font-size:14px;line-height:16px;color:#131722;letter-spacing:-0.300px;transform:scaleX(0.8905);transform-origin:0 0;left:161.20px;">YTD</div>
<div class="t" style="top:844.70px;font-size:14px;line-height:16px;color:#131722;letter-spacing:-0.300px;transform:scaleX(0.8380);transform-origin:0 0;left:198.10px;">1Y</div>
<div class="t" style="top:844.70px;font-size:14px;line-height:16px;color:#131722;letter-spacing:-0.300px;transform:scaleX(0.8737);transform-origin:0 0;left:223.60px;">5Y</div>
<div class="t" style="top:844.70px;font-size:14px;line-height:16px;color:#131722;letter-spacing:-0.080px;left:249.30px;">All</div>
<div class="box" style="left:275px;top:842px;width:1px;height:21px;background:#e0e3eb"></div>
<!--CAL-->
<div class="t" style="top:844.90px;font-size:14px;line-height:16px;color:#131722;letter-spacing:-0.300px;transform:scaleX(0.9695);transform-origin:0 0;left:1428.60px;">10:30:06</div>
<div class="t" style="top:844.90px;font-size:14px;line-height:16px;color:#131722;letter-spacing:-0.300px;transform:scaleX(0.9079);transform-origin:0 0;left:1485.10px;">(UTC)</div>
<svg class="abs" style="left:0;top:0;pointer-events:none" width="1826" height="879" viewBox="0 0 1826 879"><g transform="translate(10.8,9)"><circle cx="9" cy="9" r="9" fill="#aeb0ba"/><path d="M6.7 4.9 H11.3 L12.2 7.9 H5.8 Z M3.6 9.3 H7.4 L8.1 11.9 H2.7 Z M10.6 9.3 H14.4 L15.6 11.9 H9.9 Z" fill="#fff"/></g><path d="M14.1 776.4 H26.2 V790.7 H20 V781.9 H14.1 Z" fill="#131722"/><circle cx="31.2" cy="779" r="2.55" fill="#131722"/><path d="M36.8 776.4 H43.8 L38.0 790.7 H30.9 Z" fill="#131722"/><path d="M1439.2 499.9 A10 10 0 1 0 1444.7 506.7" fill="none" stroke="#7b22a8" stroke-width="1.4"/><path d="M1437.6 503.4 L1431.3 510.2 H1435 L1432.6 514.8 L1439.4 508 H1435.6 Z" fill="#8a2bc2"/><circle cx="1441.8" cy="501.7" r="2.5" fill="#f23645"/><circle cx="1445.8" cy="533.9" r="10.4" fill="#fff"/><circle cx="1445.8" cy="533.9" r="9.6" fill="#fff" stroke="#e0384a" stroke-width="1.3"/><clipPath id="fl0"><circle cx="1445.8" cy="533.9" r="7.6"/></clipPath><g clip-path="url(#fl0)"><rect x="1438.2" y="526.3" width="15.2" height="15.2" fill="#fff"/><rect x="1438.2" y="526.30" width="15.2" height="2.17" fill="#e8404e"/><rect x="1438.2" y="530.64" width="15.2" height="2.17" fill="#e8404e"/><rect x="1438.2" y="534.99" width="15.2" height="2.17" fill="#e8404e"/><rect x="1438.2" y="539.33" width="15.2" height="2.17" fill="#e8404e"/><rect x="1438.2" y="526.3" width="8.36" height="7.82" fill="#3f63b5"/><rect x="1439.52" y="528.14" width="0.7" height="0.7" fill="#dfe6f7"/><rect x="1442.03" y="528.14" width="0.7" height="0.7" fill="#dfe6f7"/><rect x="1444.54" y="528.14" width="0.7" height="0.7" fill="#dfe6f7"/><rect x="1439.52" y="530.25" width="0.7" height="0.7" fill="#dfe6f7"/><rect x="1442.03" y="530.25" width="0.7" height="0.7" fill="#dfe6f7"/><rect x="1444.54" y="530.25" width="0.7" height="0.7" fill="#dfe6f7"/><rect x="1439.52" y="532.36" width="0.7" height="0.7" fill="#dfe6f7"/><rect x="1442.03" y="532.36" width="0.7" height="0.7" fill="#dfe6f7"/><rect x="1444.54" y="532.36" width="0.7" height="0.7" fill="#dfe6f7"/></g><circle cx="1434.6" cy="533.9" r="10.4" fill="#fff"/><circle cx="1434.6" cy="533.9" r="9.6" fill="#fff" stroke="#e0384a" stroke-width="1.3"/><clipPath id="fl1"><circle cx="1434.6" cy="533.9" r="7.6"/></clipPath><g clip-path="url(#fl1)"><rect x="1427.0" y="526.3" width="15.2" height="15.2" fill="#fff"/><rect x="1427.0" y="526.30" width="15.2" height="2.17" fill="#e8404e"/><rect x="1427.0" y="530.64" width="15.2" height="2.17" fill="#e8404e"/><rect x="1427.0" y="534.99" width="15.2" height="2.17" fill="#e8404e"/><rect x="1427.0" y="539.33" width="15.2" height="2.17" fill="#e8404e"/><rect x="1427.0" y="526.3" width="8.36" height="7.82" fill="#3f63b5"/><rect x="1428.32" y="528.14" width="0.7" height="0.7" fill="#dfe6f7"/><rect x="1430.83" y="528.14" width="0.7" height="0.7" fill="#dfe6f7"/><rect x="1433.34" y="528.14" width="0.7" height="0.7" fill="#dfe6f7"/><rect x="1428.32" y="530.25" width="0.7" height="0.7" fill="#dfe6f7"/><rect x="1430.83" y="530.25" width="0.7" height="0.7" fill="#dfe6f7"/><rect x="1433.34" y="530.25" width="0.7" height="0.7" fill="#dfe6f7"/><rect x="1428.32" y="532.36" width="0.7" height="0.7" fill="#dfe6f7"/><rect x="1430.83" y="532.36" width="0.7" height="0.7" fill="#dfe6f7"/><rect x="1433.34" y="532.36" width="0.7" height="0.7" fill="#dfe6f7"/></g><path d="M1491.2 819.4 L1494.7 813.3 H1502.4 L1505.9 819.4 L1502.4 825.5 H1494.7 Z" fill="none" stroke="#131722" stroke-width="1.15" stroke-linejoin="round"/><circle cx="1498.5" cy="819.4" r="2.3" fill="none" stroke="#131722" stroke-width="1.1"/><path d="M290.5 851.6 V848 A2.5 2.5 0 0 1 293 845.5 H305 A2.5 2.5 0 0 1 307.5 848 V858 A2.5 2.5 0 0 1 305 860.5 H299.2 M290.5 849.4 H307.5 M295.5 843.2 V846.8 M302.5 843.2 V846.8 M289.2 857.5 H296.5 M293.4 854.2 L296.7 857.5 L293.4 860.8" fill="none" stroke="#131722" stroke-width="1.1" stroke-linecap="round" stroke-linejoin="round"/></svg>
<div class="t" style="top:17.70px;font-size:14px;line-height:16px;color:#131722;letter-spacing:-0.326px;font-weight:bold;left:1549.10px;">Watchlist</div>
<svg class="abs" style="left:1614.2px;top:22.6px" width="10" height="8" viewBox="0 0 10 8"><path d="M1.2 2 L5 5.8 L8.8 2" fill="none" stroke="#131722" stroke-width="1.2"/></svg>
<svg class="abs" style="left:1709.5px;top:17.7px" width="16" height="16" viewBox="0 0 16 16"><path d="M8 0.5 V15.5 M0.5 8 H15.5" stroke="#131722" stroke-width="1.1" fill="none"/></svg>
<svg class="abs" style="left:1743.0px;top:14.0px" width="24" height="24" viewBox="0 0 24 24"><path d="M11.4 4.1 A8.8 8.8 0 1 0 20.200000000000003 12.9 H11.4 Z" fill="none" stroke="#131722" stroke-width="1.1"/><clipPath id="pw"><path d="M13.8 1.6999999999999993 A8.8 8.8 0 0 1 22.6 10.5 H13.8 Z"/></clipPath><g clip-path="url(#pw)"><path d="M6.3 10.5 L15.3 1.5" stroke="#131722" stroke-width="1.1"/><path d="M8.8 10.5 L17.8 1.5" stroke="#131722" stroke-width="1.1"/><path d="M11.3 10.5 L20.3 1.5" stroke="#131722" stroke-width="1.1"/><path d="M13.8 10.5 L22.8 1.5" stroke="#131722" stroke-width="1.1"/><path d="M16.3 10.5 L25.3 1.5" stroke="#131722" stroke-width="1.1"/><path d="M18.8 10.5 L27.8 1.5" stroke="#131722" stroke-width="1.1"/><path d="M21.3 10.5 L30.3 1.5" stroke="#131722" stroke-width="1.1"/></g><path d="M13.8 1.6999999999999993 A8.8 8.8 0 0 1 22.6 10.5 H13.8 Z" fill="none" stroke="#131722" stroke-width="1.1"/></svg>
<svg class="abs" style="left:1782.6px;top:23.5px" width="22" height="6" viewBox="0 0 22 6"><circle cx="3.9" cy="3" r="1.9" fill="none" stroke="#131722" stroke-width="1.15"/><circle cx="11" cy="3" r="1.9" fill="none" stroke="#131722" stroke-width="1.15"/><circle cx="18.1" cy="3" r="1.9" fill="none" stroke="#131722" stroke-width="1.15"/></svg>
<svg class="abs" style="left:1533px;top:58px" width="12" height="12" viewBox="0 0 12 12"><path d="M0 0 H12 L8.5 6 L12 12 H0 Z" fill="#d1d4dc"/></svg>
<div class="t" style="top:55.90px;font-size:14px;line-height:16px;color:#6a6d78;letter-spacing:-0.300px;transform:scaleX(0.9694);transform-origin:0 0;left:1549.00px;">Symbol</div>
<div class="t" style="top:55.90px;font-size:14px;line-height:16px;color:#6a6d78;letter-spacing:-0.287px;left:1654.30px;">Last</div>
<div class="t" style="top:55.90px;font-size:14px;line-height:16px;color:#6a6d78;letter-spacing:-0.300px;transform:scaleX(0.8970);transform-origin:0 0;left:1721.50px;">Chg</div>
<div class="t" style="top:55.90px;font-size:14px;line-height:16px;color:#6a6d78;letter-spacing:-0.300px;transform:scaleX(0.8273);transform-origin:0 0;left:1773.00px;">Chg%</div>
<div class="box" style="left:1533px;top:77px;width:287px;height:1px;background:#e0e3eb"></div>
<div class="box" style="left:1533px;top:114px;width:287px;height:1px;background:#f0f3fa"></div>
<svg class="abs" style="left:1549.0px;top:91.0px" width="18" height="18" viewBox="0 0 18 18"><circle cx="9" cy="9" r="9" fill="#d69e0b"/><path d="M6.7 4.9 H11.3 L12.2 7.9 H5.8 Z M3.6 9.3 H7.4 L8.1 11.9 H2.7 Z M10.6 9.3 H14.4 L15.6 11.9 H9.9 Z" fill="#fff"/></svg>
<div class="abs" style="left:1573.4px;top:85px;width:39.6px;height:30px;overflow:hidden"><div class="t" style="top:7.00px;font-size:14px;line-height:16px;color:#131722;letter-spacing:-0.300px;transform:scaleX(0.8614);transform-origin:0 0;left:0.00px;">GOLD</div></div>
<div class="t" style="top:93.00px;font-size:13.5px;line-height:15px;color:#131722;letter-spacing:-0.193px;left:1629.10px;"><span style="color:#131722">2,699.0</span><span style="color:#f23645">2</span></div>
<div class="t" style="top:93.00px;font-size:13.5px;line-height:15px;color:#131722;letter-spacing:-0.392px;left:1718.10px;"><span style="color:#089981">4.96</span></div>
<div class="t" style="top:93.00px;font-size:13.5px;line-height:15px;color:#131722;letter-spacing:-0.300px;transform:scaleX(0.9062);transform-origin:0 0;left:1770.60px;"><span style="color:#089981">0.18%</span></div>
<div class="box" style="left:1533px;top:144px;width:287px;height:1px;background:#f0f3fa"></div>
<svg class="abs" style="left:1549.0px;top:121.0px" width="18" height="18" viewBox="0 0 18 18"><circle cx="9" cy="9" r="9" fill="#aeb0ba"/><path d="M6.7 4.9 H11.3 L12.2 7.9 H5.8 Z M3.6 9.3 H7.4 L8.1 11.9 H2.7 Z M10.6 9.3 H14.4 L15.6 11.9 H9.9 Z" fill="#fff"/></svg>
<div class="abs" style="left:1573.4px;top:115px;width:39.6px;height:30px;overflow:hidden"><div class="t" style="top:7.00px;font-size:14px;line-height:16px;color:#131722;letter-spacing:-0.300px;transform:scaleX(0.8463);transform-origin:0 0;left:0.00px;">XAGUSD</div></div>
<div class="t" style="top:123.00px;font-size:13.5px;line-height:15px;color:#131722;letter-spacing:-0.300px;transform:scaleX(0.9776);transform-origin:0 0;left:1641.40px;"><span style="color:#131722">31.6</span><span style="color:#f23645">79</span></div>
<div class="t" style="top:123.00px;font-size:13.5px;line-height:15px;color:#131722;letter-spacing:-0.300px;transform:scaleX(0.9784);transform-origin:0 0;left:1703.90px;"><span style="color:#f23645">−0.215</span></div>
<div class="t" style="top:123.00px;font-size:13.5px;line-height:15px;color:#131722;letter-spacing:-0.300px;transform:scaleX(0.9158);transform-origin:0 0;left:1763.30px;"><span style="color:#f23645">−0.67%</span></div>
<div class="box" style="left:1533px;top:174px;width:287px;height:1px;background:#f0f3fa"></div>
<svg class="abs" style="left:1549.0px;top:151.0px" width="18" height="18" viewBox="0 0 18 18"><circle cx="9" cy="9" r="9" fill="#d8252f"/><path d="M6.6 4.2 H8.7 L8.5 10.2 L7.7 13.8 H4.7 L6.3 9.6 Z M9.3 4.2 H11.4 L11.7 9.6 L13.3 13.8 H10.3 L9.5 10.2 Z" fill="#fff"/></svg>
<div class="abs" style="left:1573.4px;top:145px;width:32px;height:30px;overflow:hidden"><div class="t" style="top:7.00px;font-size:14px;line-height:16px;color:#131722;letter-spacing:-0.300px;transform:scaleX(0.9168);transform-origin:0 0;left:0.00px;">HSI1!</div></div>
<div class="t" style="top:150.10px;font-size:9.5px;line-height:11px;color:#eaa92e;letter-spacing:0.000px;transform:scaleX(0.7871);transform-origin:0 0;left:1607.10px;">D</div>
<div class="t" style="top:153.00px;font-size:13.5px;line-height:15px;color:#131722;letter-spacing:-0.300px;transform:scaleX(0.9776);transform-origin:0 0;left:1641.40px;"><span style="color:#131722">20,18</span><span style="color:#f23645">1</span></div>
<div class="t" style="top:153.00px;font-size:13.5px;line-height:15px;color:#131722;letter-spacing:-0.300px;transform:scaleX(0.9013);transform-origin:0 0;left:1723.10px;"><span style="color:#f23645">−26</span></div>
<div class="t" style="top:153.00px;font-size:13.5px;line-height:15px;color:#131722;letter-spacing:-0.300px;transform:scaleX(0.9158);transform-origin:0 0;left:1763.30px;"><span style="color:#f23645">−0.13%</span></div>
<div class="box" style="left:1533px;top:204px;width:287px;height:1px;background:#f0f3fa"></div>
<svg class="abs" style="left:1549.0px;top:181.0px" width="18" height="18" viewBox="0 0 18 18"><circle cx="9" cy="9" r="9" fill="#24478c"/><text x="9" y="12.1" font-family="Liberation Sans" font-weight="bold" font-size="8.6" text-anchor="middle" fill="#fff" letter-spacing="-0.1">225</text></svg>
<div class="abs" style="left:1573.4px;top:175px;width:39.6px;height:30px;overflow:hidden"><div class="t" style="top:7.00px;font-size:14px;line-height:16px;color:#131722;letter-spacing:-0.300px;transform:scaleX(0.8828);transform-origin:0 0;left:0.00px;">NIKKEI</div></div>
<div class="t" style="top:183.00px;font-size:13.5px;line-height:15px;color:#131722;letter-spacing:-0.300px;transform:scaleX(0.9776);transform-origin:0 0;left:1641.40px;"><span style="color:#f23645">39,606</span></div>
<div class="t" style="top:183.00px;font-size:13.5px;line-height:15px;color:#131722;letter-spacing:-0.300px;transform:scaleX(0.8985);transform-origin:0 0;left:1723.50px;"><span style="color:#089981">274</span></div>
<div class="t" style="top:183.00px;font-size:13.5px;line-height:15px;color:#131722;letter-spacing:-0.300px;transform:scaleX(0.9062);transform-origin:0 0;left:1770.60px;"><span style="color:#089981">0.70%</span></div>
<div class="box" style="left:1533px;top:234px;width:287px;height:1px;background:#f0f3fa"></div>
<svg class="abs" style="left:1549.0px;top:211.0px" width="18" height="18" viewBox="0 0 18 18"><circle cx="9" cy="9" r="9" fill="#0f8463"/><text x="9" y="13.2" font-family="Liberation Sans" font-weight="bold" font-size="12" text-anchor="middle" fill="#fff">S</text><path d="M9 2.5 V15.5" stroke="#fff" stroke-width="0.01"/></svg>
<div class="abs" style="left:1573.4px;top:205px;width:39.6px;height:30px;overflow:hidden"><div class="t" style="top:7.00px;font-size:14px;line-height:16px;color:#131722;letter-spacing:-0.300px;transform:scaleX(0.8231);transform-origin:0 0;left:0.00px;">DXY</div></div>
<div class="t" style="top:213.00px;font-size:13.5px;line-height:15px;color:#131722;letter-spacing:-0.300px;transform:scaleX(0.9745);transform-origin:0 0;left:1634.50px;"><span style="color:#131722">106.4</span><span style="color:#089981">10</span></div>
<div class="t" style="top:213.00px;font-size:13.5px;line-height:15px;color:#131722;letter-spacing:-0.300px;transform:scaleX(0.9821);transform-origin:0 0;left:1711.20px;"><span style="color:#089981">0.336</span></div>
<div class="t" style="top:213.00px;font-size:13.5px;line-height:15px;color:#131722;letter-spacing:-0.300px;transform:scaleX(0.9062);transform-origin:0 0;left:1770.60px;"><span style="color:#089981">0.32%</span></div>
<div class="box" style="left:1533px;top:264px;width:287px;height:1px;background:#f0f3fa"></div>
<svg class="abs" style="left:1549.0px;top:241.0px" width="18" height="18" viewBox="0 0 18 18"><circle cx="9" cy="9" r="9" fill="#1093c6"/><text x="8.9" y="12" font-family="Liberation Sans" font-weight="bold" font-size="8.4" text-anchor="middle" fill="#fff" letter-spacing="-0.35">100</text></svg>
<div class="abs" style="left:1573.4px;top:235px;width:25.9px;height:30px;overflow:hidden"><div class="t" style="top:7.00px;font-size:14px;line-height:16px;color:#131722;letter-spacing:-0.300px;transform:scaleX(0.8622);transform-origin:0 0;left:0.00px;">NDAQ</div></div>
<div class="t" style="top:240.10px;font-size:9.5px;line-height:11px;color:#eaa92e;letter-spacing:0.000px;transform:scaleX(0.7871);transform-origin:0 0;left:1607.10px;">D</div>
<div class="t" style="top:243.00px;font-size:13.5px;line-height:15px;color:#131722;letter-spacing:-0.300px;transform:scaleX(0.9821);transform-origin:0 0;left:1648.30px;"><span style="color:#131722">155.5</span></div>
<div class="t" style="top:243.00px;font-size:13.5px;line-height:15px;color:#131722;letter-spacing:-0.284px;left:1725.00px;"><span style="color:#131722">0.0</span></div>
<div class="t" style="top:243.00px;font-size:13.5px;line-height:15px;color:#131722;letter-spacing:-0.300px;transform:scaleX(0.9062);transform-origin:0 0;left:1770.60px;"><span style="color:#131722">0.00%</span></div>
<div class="box" style="left:1533px;top:294px;width:287px;height:1px;background:#f0f3fa"></div>
<svg class="abs" style="left:1549.0px;top:271.0px" width="18" height="18" viewBox="0 0 18 18"><circle cx="9" cy="9" r="9" fill="#16181d"/><path d="M9 3.6 C9 3.6 5.3 8 5.3 10.4 A3.7 3.7 0 0 0 12.7 10.4 C12.7 8 9 3.6 9 3.6 Z" fill="#fff"/></svg>
<div class="abs" style="left:1573.4px;top:265px;width:39.6px;height:30px;overflow:hidden"><div class="t" style="top:7.00px;font-size:14px;line-height:16px;color:#131722;letter-spacing:-0.300px;transform:scaleX(0.8741);transform-origin:0 0;left:0.00px;">OIL</div></div>
<div class="t" style="top:273.00px;font-size:13.5px;line-height:15px;color:#131722;letter-spacing:-0.300px;transform:scaleX(0.9821);transform-origin:0 0;left:1648.30px;"><span style="color:#131722">69.2</span><span style="color:#f23645">8</span></div>
<div class="t" style="top:273.00px;font-size:13.5px;line-height:15px;color:#131722;letter-spacing:-0.392px;left:1718.10px;"><span style="color:#089981">0.84</span></div>
<div class="t" style="top:273.00px;font-size:13.5px;line-height:15px;color:#131722;letter-spacing:-0.300px;transform:scaleX(0.9062);transform-origin:0 0;left:1770.60px;"><span style="color:#089981">1.23%</span></div>
<div class="box" style="left:1533px;top:324px;width:287px;height:1px;background:#f0f3fa"></div>
<svg class="abs" style="left:1549.0px;top:301.0px" width="18" height="18" viewBox="0 0 18 18"><circle cx="9" cy="9" r="9" fill="#1c52a6"/><circle cx="14.20" cy="9.00" r="0.9" fill="#f5d04a"/><circle cx="12.68" cy="12.68" r="0.9" fill="#f5d04a"/><circle cx="9.00" cy="14.20" r="0.9" fill="#f5d04a"/><circle cx="5.32" cy="12.68" r="0.9" fill="#f5d04a"/><circle cx="3.80" cy="9.00" r="0.9" fill="#f5d04a"/><circle cx="5.32" cy="5.32" r="0.9" fill="#f5d04a"/><circle cx="9.00" cy="3.80" r="0.9" fill="#f5d04a"/><circle cx="12.68" cy="5.32" r="0.9" fill="#f5d04a"/></svg>
<div class="abs" style="left:1573.4px;top:295px;width:17.7px;height:30px;overflow:hidden"><div class="t" style="top:7.00px;font-size:14px;line-height:16px;color:#131722;letter-spacing:-0.300px;transform:scaleX(0.8104);transform-origin:0 0;left:0.00px;">EUR</div></div>
<div class="t" style="top:300.10px;font-size:9.5px;line-height:11px;color:#eaa92e;letter-spacing:0.000px;transform:scaleX(0.7871);transform-origin:0 0;left:1597.20px;">D</div>
<div class="box" style="left:1607px;top:307px;width:6px;height:6px;background:#9598a1;border-radius:50%"></div>
<div class="t" style="top:303.00px;font-size:13.5px;line-height:15px;color:#131722;letter-spacing:-0.124px;left:1636.00px;"><span style="color:#131722">6,39</span><span style="color:#089981">6.7</span></div>
<div class="t" style="top:303.00px;font-size:13.5px;line-height:15px;color:#131722;letter-spacing:-0.300px;transform:scaleX(0.9830);transform-origin:0 0;left:1710.80px;"><span style="color:#f23645">−45.8</span></div>
<div class="t" style="top:303.00px;font-size:13.5px;line-height:15px;color:#131722;letter-spacing:-0.300px;transform:scaleX(0.9158);transform-origin:0 0;left:1763.30px;"><span style="color:#f23645">−0.71%</span></div>
<div class="box" style="left:1533px;top:354px;width:287px;height:1px;background:#f0f3fa"></div>
<svg class="abs" style="left:1549.0px;top:331.0px" width="18" height="18" viewBox="0 0 18 18"><clipPath id="c9b"><circle cx="12.3" cy="5.7" r="5.7"/></clipPath><g clip-path="url(#c9b)"><rect x="6.6000000000000005" y="0.0" width="11.4" height="11.4" fill="#fff"/><circle cx="12.3" cy="5.7" r="2.565" fill="#e8404e"/></g><circle cx="12.3" cy="5.7" r="5.4" fill="none" stroke="#f3d6da" stroke-width="0.8"/><circle cx="6.1" cy="11.9" r="6.9" fill="#fff"/><clipPath id="c9a"><circle cx="6.1" cy="11.9" r="6.1"/></clipPath><g clip-path="url(#c9a)"><rect x="0.0" y="5.800000000000001" width="12.2" height="12.2" fill="#fff"/><rect x="0.0" y="5.80" width="12.2" height="1.74" fill="#e8404e"/><rect x="0.0" y="9.29" width="12.2" height="1.74" fill="#e8404e"/><rect x="0.0" y="12.77" width="12.2" height="1.74" fill="#e8404e"/><rect x="0.0" y="16.26" width="12.2" height="1.74" fill="#e8404e"/><rect x="0.0" y="5.800000000000001" width="6.71" height="6.27" fill="#3f63b5"/><rect x="0.99" y="7.21" width="0.7" height="0.7" fill="#dfe6f7"/><rect x="3.00" y="7.21" width="0.7" height="0.7" fill="#dfe6f7"/><rect x="5.02" y="7.21" width="0.7" height="0.7" fill="#dfe6f7"/><rect x="0.99" y="8.90" width="0.7" height="0.7" fill="#dfe6f7"/><rect x="3.00" y="8.90" width="0.7" height="0.7" fill="#dfe6f7"/><rect x="5.02" y="8.90" width="0.7" height="0.7" fill="#dfe6f7"/><rect x="0.99" y="10.59" width="0.7" height="0.7" fill="#dfe6f7"/><rect x="3.00" y="10.59" width="0.7" height="0.7" fill="#dfe6f7"/><rect x="5.02" y="10.59" width="0.7" height="0.7" fill="#dfe6f7"/></g></svg>
<div class="abs" style="left:1573.4px;top:325px;width:37.9px;height:30px;overflow:hidden"><div class="t" style="top:7.00px;font-size:14px;line-height:16px;color:#131722;letter-spacing:-0.300px;transform:scaleX(0.8499);transform-origin:0 0;left:0.00px;">USDJPY</div></div>
<div class="t" style="top:332.00px;font-size:10.5px;line-height:12px;color:#f23645;letter-spacing:0.000px;transform:scaleX(0.8562);transform-origin:0 0;left:1675.30px;">6</div><div class="t" style="top:333.00px;font-size:13.5px;line-height:15px;color:#131722;letter-spacing:-0.300px;transform:scaleX(0.9776);transform-origin:0 0;left:1635.40px;"><span style="color:#f23645">152.57</span></div>
<div class="t" style="top:333.00px;font-size:13.5px;line-height:15px;color:#131722;letter-spacing:-0.300px;transform:scaleX(0.9821);transform-origin:0 0;left:1711.20px;"><span style="color:#089981">0.625</span></div>
<div class="t" style="top:333.00px;font-size:13.5px;line-height:15px;color:#131722;letter-spacing:-0.300px;transform:scaleX(0.9062);transform-origin:0 0;left:1770.60px;"><span style="color:#089981">0.41%</span></div>
<div class="box" style="left:1533px;top:384px;width:287px;height:1px;background:#f0f3fa"></div>
<svg class="abs" style="left:1549.0px;top:361.0px" width="18" height="18" viewBox="0 0 18 18"><clipPath id="c10b"><circle cx="12.3" cy="5.7" r="5.7"/></clipPath><g clip-path="url(#c10b)"><rect x="6.6000000000000005" y="0.0" width="11.4" height="11.4" fill="#fff"/><rect x="6.6000000000000005" y="0.00" width="11.4" height="1.63" fill="#e8404e"/><rect x="6.6000000000000005" y="3.26" width="11.4" height="1.63" fill="#e8404e"/><rect x="6.6000000000000005" y="6.51" width="11.4" height="1.63" fill="#e8404e"/><rect x="6.6000000000000005" y="9.77" width="11.4" height="1.63" fill="#e8404e"/><rect x="6.6000000000000005" y="0.0" width="6.27" height="5.86" fill="#3f63b5"/></g><circle cx="6.1" cy="11.9" r="6.9" fill="#fff"/><clipPath id="c10a"><circle cx="6.1" cy="11.9" r="6.1"/></clipPath><g clip-path="url(#c10a)"><rect x="0.0" y="5.800000000000001" width="12.2" height="12.2" fill="#1f3f9a"/><path d="M0.0 5.800000000000001 L6.1 11.9 M6.1 5.800000000000001 L0.0 11.9" stroke="#fff" stroke-width="1"/><path d="M0.0 8.850000000000001 H6.1 M3.05 5.800000000000001 V11.9" stroke="#e8404e" stroke-width="1"/><circle cx="8.54" cy="13.73" r="0.7" fill="#fff"/><circle cx="3.6599999999999997" cy="14.95" r="0.8" fill="#fff"/></g></svg>
<div class="abs" style="left:1573.4px;top:355px;width:39.6px;height:30px;overflow:hidden"><div class="t" style="top:7.00px;font-size:14px;line-height:16px;color:#131722;letter-spacing:-0.300px;transform:scaleX(0.8528);transform-origin:0 0;left:0.00px;">AUDUSD</div></div>
<div class="t" style="top:362.00px;font-size:10.5px;line-height:12px;color:#f23645;letter-spacing:0.000px;transform:scaleX(0.8562);transform-origin:0 0;left:1675.30px;">6</div><div class="t" style="top:363.00px;font-size:13.5px;line-height:15px;color:#131722;letter-spacing:-0.300px;transform:scaleX(0.9776);transform-origin:0 0;left:1635.40px;"><span style="color:#f23645">0.6342</span></div>
<div class="t" style="top:363.00px;font-size:13.5px;line-height:15px;color:#131722;letter-spacing:-0.300px;transform:scaleX(0.9728);transform-origin:0 0;left:1690.10px;"><span style="color:#f23645">−0.00340</span></div>
<div class="t" style="top:363.00px;font-size:13.5px;line-height:15px;color:#131722;letter-spacing:-0.300px;transform:scaleX(0.9158);transform-origin:0 0;left:1763.30px;"><span style="color:#f23645">−0.53%</span></div>
<div class="box" style="left:1533px;top:414px;width:287px;height:1px;background:#f0f3fa"></div>
<svg class="abs" style="left:1549.0px;top:391.0px" width="18" height="18" viewBox="0 0 18 18"><clipPath id="c11b"><circle cx="12.3" cy="5.7" r="5.7"/></clipPath><g clip-path="url(#c11b)"><rect x="6.6000000000000005" y="0.0" width="11.4" height="11.4" fill="#e8404e"/><path d="M9.165000000000001 5.7 H15.435 M12.3 2.565 V8.835" stroke="#fff" stroke-width="2.05"/></g><circle cx="6.1" cy="11.9" r="6.9" fill="#fff"/><clipPath id="c11a"><circle cx="6.1" cy="11.9" r="6.1"/></clipPath><g clip-path="url(#c11a)"><rect x="0.0" y="5.800000000000001" width="12.2" height="12.2" fill="#fff"/><rect x="0.0" y="5.80" width="12.2" height="1.74" fill="#e8404e"/><rect x="0.0" y="9.29" width="12.2" height="1.74" fill="#e8404e"/><rect x="0.0" y="12.77" width="12.2" height="1.74" fill="#e8404e"/><rect x="0.0" y="16.26" width="12.2" height="1.74" fill="#e8404e"/><rect x="0.0" y="5.800000000000001" width="6.71" height="6.27" fill="#3f63b5"/><rect x="0.99" y="7.21" width="0.7" height="0.7" fill="#dfe6f7"/><rect x="3.00" y="7.21" width="0.7" height="0.7" fill="#dfe6f7"/><rect x="5.02" y="7.21" width="0.7" height="0.7" fill="#dfe6f7"/><rect x="0.99" y="8.90" width="0.7" height="0.7" fill="#dfe6f7"/><rect x="3.00" y="8.90" width="0.7" height="0.7" fill="#dfe6f7"/><rect x="5.02" y="8.90" width="0.7" height="0.7" fill="#dfe6f7"/><rect x="0.99" y="10.59" width="0.7" height="0.7" fill="#dfe6f7"/><rect x="3.00" y="10.59" width="0.7" height="0.7" fill="#dfe6f7"/><rect x="5.02" y="10.59" width="0.7" height="0.7" fill="#dfe6f7"/></g></svg>
<div class="abs" style="left:1573.4px;top:385px;width:39.6px;height:30px;overflow:hidden"><div class="t" style="top:7.00px;font-size:14px;line-height:16px;color:#131722;letter-spacing:-0.300px;transform:scaleX(0.8458);transform-origin:0 0;left:0.00px;">USDCHF</div></div>
<div class="t" style="top:392.00px;font-size:10.5px;line-height:12px;color:#f23645;letter-spacing:0.000px;transform:scaleX(0.8562);transform-origin:0 0;left:1675.30px;">0</div><div class="t" style="top:393.00px;font-size:13.5px;line-height:15px;color:#131722;letter-spacing:-0.300px;transform:scaleX(0.9776);transform-origin:0 0;left:1635.40px;"><span style="color:#131722">0.8842</span></div>
<div class="t" style="top:393.00px;font-size:13.5px;line-height:15px;color:#131722;letter-spacing:-0.300px;transform:scaleX(0.9745);transform-origin:0 0;left:1697.40px;"><span style="color:#089981">0.00132</span></div>
<div class="t" style="top:393.00px;font-size:13.5px;line-height:15px;color:#131722;letter-spacing:-0.300px;transform:scaleX(0.9062);transform-origin:0 0;left:1770.60px;"><span style="color:#089981">0.15%</span></div>
<div class="box" style="left:1533px;top:444px;width:287px;height:1px;background:#f0f3fa"></div>
<svg class="abs" style="left:1549.0px;top:421.0px" width="18" height="18" viewBox="0 0 18 18"><clipPath id="c12b"><circle cx="12.3" cy="5.7" r="5.7"/></clipPath><g clip-path="url(#c12b)"><rect x="6.6000000000000005" y="0.0" width="11.4" height="5.7" fill="#e8404e"/><rect x="6.6000000000000005" y="5.7" width="11.4" height="5.7" fill="#fff"/></g><circle cx="6.1" cy="11.9" r="6.9" fill="#fff"/><clipPath id="c12a"><circle cx="6.1" cy="11.9" r="6.1"/></clipPath><g clip-path="url(#c12a)"><rect x="0.0" y="5.800000000000001" width="12.2" height="12.2" fill="#fff"/><rect x="0.0" y="5.80" width="12.2" height="1.74" fill="#e8404e"/><rect x="0.0" y="9.29" width="12.2" height="1.74" fill="#e8404e"/><rect x="0.0" y="12.77" width="12.2" height="1.74" fill="#e8404e"/><rect x="0.0" y="16.26" width="12.2" height="1.74" fill="#e8404e"/><rect x="0.0" y="5.800000000000001" width="6.71" height="6.27" fill="#3f63b5"/><rect x="0.99" y="7.21" width="0.7" height="0.7" fill="#dfe6f7"/><rect x="3.00" y="7.21" width="0.7" height="0.7" fill="#dfe6f7"/><rect x="5.02" y="7.21" width="0.7" height="0.7" fill="#dfe6f7"/><rect x="0.99" y="8.90" width="0.7" height="0.7" fill="#dfe6f7"/><rect x="3.00" y="8.90" width="0.7" height="0.7" fill="#dfe6f7"/><rect x="5.02" y="8.90" width="0.7" height="0.7" fill="#dfe6f7"/><rect x="0.99" y="10.59" width="0.7" height="0.7" fill="#dfe6f7"/><rect x="3.00" y="10.59" width="0.7" height="0.7" fill="#dfe6f7"/><rect x="5.02" y="10.59" width="0.7" height="0.7" fill="#dfe6f7"/></g></svg>
<div class="abs" style="left:1573.4px;top:415px;width:37.2px;height:30px;overflow:hidden"><div class="t" style="top:7.00px;font-size:14px;line-height:16px;color:#131722;letter-spacing:-0.300px;transform:scaleX(0.8390);transform-origin:0 0;left:0.00px;">USDIDR</div></div>
<div class="t" style="top:422.00px;font-size:10.5px;line-height:12px;color:#089981;letter-spacing:0.000px;transform:scaleX(0.8562);transform-origin:0 0;left:1675.30px;">0</div><div class="t" style="top:423.00px;font-size:13.5px;line-height:15px;color:#131722;letter-spacing:-0.124px;left:1630.00px;"><span style="color:#131722">15,95</span><span style="color:#089981">3.</span></div>
<div class="t" style="top:423.00px;font-size:13.5px;line-height:15px;color:#131722;letter-spacing:-0.392px;left:1718.10px;"><span style="color:#089981">54.1</span></div>
<div class="t" style="top:423.00px;font-size:13.5px;line-height:15px;color:#131722;letter-spacing:-0.300px;transform:scaleX(0.9062);transform-origin:0 0;left:1770.60px;"><span style="color:#089981">0.34%</span></div>
<div class="box" style="left:1533px;top:474px;width:287px;height:1px;background:#f0f3fa"></div>
<svg class="abs" style="left:1549.0px;top:451.0px" width="18" height="18" viewBox="0 0 18 18"><clipPath id="c13"><circle cx="9" cy="9" r="9"/></clipPath><g clip-path="url(#c13)"><rect x="0" y="0" width="18" height="18" fill="#fff"/><rect x="0" y="0.00" width="18" height="2.57" fill="#e8404e"/><rect x="0" y="5.14" width="18" height="2.57" fill="#e8404e"/><rect x="0" y="10.29" width="18" height="2.57" fill="#e8404e"/><rect x="0" y="15.43" width="18" height="2.57" fill="#e8404e"/><rect x="0" y="0" width="9.90" height="9.26" fill="#3f63b5"/><rect x="1.63" y="2.24" width="0.7" height="0.7" fill="#dfe6f7"/><rect x="4.60" y="2.24" width="0.7" height="0.7" fill="#dfe6f7"/><rect x="7.57" y="2.24" width="0.7" height="0.7" fill="#dfe6f7"/><rect x="1.63" y="4.74" width="0.7" height="0.7" fill="#dfe6f7"/><rect x="4.60" y="4.74" width="0.7" height="0.7" fill="#dfe6f7"/><rect x="7.57" y="4.74" width="0.7" height="0.7" fill="#dfe6f7"/><rect x="1.63" y="7.24" width="0.7" height="0.7" fill="#dfe6f7"/><rect x="4.60" y="7.24" width="0.7" height="0.7" fill="#dfe6f7"/><rect x="7.57" y="7.24" width="0.7" height="0.7" fill="#dfe6f7"/></g></svg>
<div class="abs" style="left:1573.4px;top:445px;width:32px;height:30px;overflow:hidden"><div class="t" style="top:7.00px;font-size:14px;line-height:16px;color:#131722;letter-spacing:-0.300px;transform:scaleX(0.8934);transform-origin:0 0;left:0.00px;">DJIA</div></div>
<div class="t" style="top:450.10px;font-size:9.5px;line-height:11px;color:#eaa92e;letter-spacing:0.000px;transform:scaleX(0.7871);transform-origin:0 0;left:1607.10px;">D</div>
<div class="t" style="top:453.00px;font-size:13.5px;line-height:15px;color:#131722;letter-spacing:-0.300px;transform:scaleX(0.9776);transform-origin:0 0;left:1641.40px;"><span style="color:#131722">44,26</span><span style="color:#089981">6</span></div>
<div class="t" style="top:453.00px;font-size:13.5px;line-height:15px;color:#131722;letter-spacing:-0.300px;transform:scaleX(0.9013);transform-origin:0 0;left:1723.10px;"><span style="color:#f23645">−67</span></div>
<div class="t" style="top:453.00px;font-size:13.5px;line-height:15px;color:#131722;letter-spacing:-0.300px;transform:scaleX(0.9158);transform-origin:0 0;left:1763.30px;"><span style="color:#f23645">−0.15%</span></div>
<div class="box" style="left:1533px;top:504px;width:287px;height:1px;background:#f0f3fa"></div>
<svg class="abs" style="left:1549.0px;top:481.0px" width="18" height="18" viewBox="0 0 18 18"><clipPath id="c14b"><circle cx="12.3" cy="5.7" r="5.7"/></clipPath><g clip-path="url(#c14b)"><rect x="6.6000000000000005" y="0.0" width="11.4" height="11.4" fill="#fff"/><rect x="6.6000000000000005" y="0.00" width="11.4" height="1.63" fill="#e8404e"/><rect x="6.6000000000000005" y="3.26" width="11.4" height="1.63" fill="#e8404e"/><rect x="6.6000000000000005" y="6.51" width="11.4" height="1.63" fill="#e8404e"/><rect x="6.6000000000000005" y="9.77" width="11.4" height="1.63" fill="#e8404e"/><rect x="6.6000000000000005" y="0.0" width="6.27" height="5.86" fill="#3f63b5"/></g><circle cx="6.1" cy="11.9" r="6.9" fill="#fff"/><clipPath id="c14a"><circle cx="6.1" cy="11.9" r="6.1"/></clipPath><g clip-path="url(#c14a)"><rect x="0.0" y="5.800000000000001" width="12.2" height="12.2" fill="#2a4aa0"/><path d="M0.0 5.800000000000001 L12.2 18.0 M12.2 5.800000000000001 L0.0 18.0" stroke="#fff" stroke-width="1.6"/><path d="M0.0 11.9 H12.2 M6.1 5.800000000000001 V18.0" stroke="#fff" stroke-width="3"/><path d="M0.0 11.9 H12.2 M6.1 5.800000000000001 V18.0" stroke="#e8404e" stroke-width="1.6"/></g></svg>
<div class="abs" style="left:1573.4px;top:475px;width:39.6px;height:30px;overflow:hidden"><div class="t" style="top:7.00px;font-size:14px;line-height:16px;color:#131722;letter-spacing:-0.300px;transform:scaleX(0.8394);transform-origin:0 0;left:0.00px;">GBPUSD</div></div>
<div class="t" style="top:482.00px;font-size:10.5px;line-height:12px;color:#f23645;letter-spacing:0.000px;transform:scaleX(0.8562);transform-origin:0 0;left:1675.30px;">4</div><div class="t" style="top:483.00px;font-size:13.5px;line-height:15px;color:#131722;letter-spacing:-0.300px;transform:scaleX(0.9776);transform-origin:0 0;left:1635.40px;"><span style="color:#131722">1.2721</span></div>
<div class="t" style="top:483.00px;font-size:13.5px;line-height:15px;color:#131722;letter-spacing:-0.300px;transform:scaleX(0.9728);transform-origin:0 0;left:1690.10px;"><span style="color:#f23645">−0.00504</span></div>
<div class="t" style="top:483.00px;font-size:13.5px;line-height:15px;color:#131722;letter-spacing:-0.300px;transform:scaleX(0.9158);transform-origin:0 0;left:1763.30px;"><span style="color:#f23645">−0.39%</span></div>
<div class="box" style="left:1533px;top:534px;width:287px;height:1px;background:#f0f3fa"></div>
<svg class="abs" style="left:1549.0px;top:511.0px" width="18" height="18" viewBox="0 0 18 18"><clipPath id="c15b"><circle cx="12.3" cy="5.7" r="5.7"/></clipPath><g clip-path="url(#c15b)"><rect x="6.6000000000000005" y="0.0" width="11.4" height="11.4" fill="#fff"/><rect x="6.6000000000000005" y="0.00" width="11.4" height="1.63" fill="#e8404e"/><rect x="6.6000000000000005" y="3.26" width="11.4" height="1.63" fill="#e8404e"/><rect x="6.6000000000000005" y="6.51" width="11.4" height="1.63" fill="#e8404e"/><rect x="6.6000000000000005" y="9.77" width="11.4" height="1.63" fill="#e8404e"/><rect x="6.6000000000000005" y="0.0" width="6.27" height="5.86" fill="#3f63b5"/></g><circle cx="6.1" cy="11.9" r="6.9" fill="#fff"/><clipPath id="c15a"><circle cx="6.1" cy="11.9" r="6.1"/></clipPath><g clip-path="url(#c15a)"><rect x="0.0" y="5.800000000000001" width="12.2" height="12.2" fill="#1c52a6"/><circle cx="9.76" cy="11.90" r="0.6" fill="#f5d04a"/><circle cx="8.69" cy="14.49" r="0.6" fill="#f5d04a"/><circle cx="6.10" cy="15.56" r="0.6" fill="#f5d04a"/><circle cx="3.51" cy="14.49" r="0.6" fill="#f5d04a"/><circle cx="2.44" cy="11.90" r="0.6" fill="#f5d04a"/><circle cx="3.51" cy="9.31" r="0.6" fill="#f5d04a"/><circle cx="6.10" cy="8.24" r="0.6" fill="#f5d04a"/><circle cx="8.69" cy="9.31" r="0.6" fill="#f5d04a"/></g></svg>
<div class="abs" style="left:1573.4px;top:505px;width:39.6px;height:30px;overflow:hidden"><div class="t" style="top:7.00px;font-size:14px;line-height:16px;color:#131722;letter-spacing:-0.300px;transform:scaleX(0.8303);transform-origin:0 0;left:0.00px;">EURUSD</div></div>
<div class="t" style="top:512.00px;font-size:10.5px;line-height:12px;color:#089981;letter-spacing:0.000px;transform:scaleX(0.8562);transform-origin:0 0;left:1675.30px;">8</div><div class="t" style="top:513.00px;font-size:13.5px;line-height:15px;color:#131722;letter-spacing:-0.300px;transform:scaleX(0.9776);transform-origin:0 0;left:1635.40px;"><span style="color:#131722">1.0494</span></div>
<div class="t" style="top:513.00px;font-size:13.5px;line-height:15px;color:#131722;letter-spacing:-0.300px;transform:scaleX(0.9728);transform-origin:0 0;left:1690.10px;"><span style="color:#f23645">−0.00328</span></div>
<div class="t" style="top:513.00px;font-size:13.5px;line-height:15px;color:#131722;letter-spacing:-0.300px;transform:scaleX(0.9158);transform-origin:0 0;left:1763.30px;"><span style="color:#f23645">−0.31%</span></div>
<div class="box" style="left:1533px;top:115px;width:287px;height:29px;border:2px solid #2962ff"></div>
<svg class="abs" style="left:1549.0px;top:648.0px" width="24" height="24" viewBox="0 0 18 18"><circle cx="9" cy="9" r="9" fill="#aeb0ba"/><path d="M6.7 4.9 H11.3 L12.2 7.9 H5.8 Z M3.6 9.3 H7.4 L8.1 11.9 H2.7 Z M10.6 9.3 H14.4 L15.6 11.9 H9.9 Z" fill="#fff"/></svg>
<div class="t" style="top:652.90px;font-size:13.5px;line-height:15px;color:#131722;letter-spacing:-0.300px;font-weight:bold;transform:scaleX(0.8905);transform-origin:0 0;left:1581.30px;">XAGUSD</div>
<svg class="abs" style="left:1707.6px;top:651.0px" width="18" height="18" viewBox="0 0 18 18"><rect x="1" y="1" width="6.5" height="6.5" rx="1.3" fill="none" stroke="#131722" stroke-width="1.1"/><rect x="1" y="10.5" width="6.5" height="6.5" rx="1.3" fill="none" stroke="#131722" stroke-width="1.1"/><rect x="10.5" y="1" width="6.5" height="6.5" rx="1.3" fill="none" stroke="#131722" stroke-width="1.1"/><rect x="10.5" y="10.5" width="6.5" height="6.5" rx="1.3" fill="none" stroke="#131722" stroke-width="1.1"/></svg>
<svg class="abs" style="left:1745.6px;top:650.0px" width="20" height="20" viewBox="0 0 20 20"><path d="M9 3 H4 A2.5 2.5 0 0 0 1.5 5.5 V16 A2.5 2.5 0 0 0 4 18.5 H14.5 A2.5 2.5 0 0 0 17 16 V11" fill="none" stroke="#131722" stroke-width="1.1"/><path d="M7.5 12.5 L8.3 9.5 L15.5 2.3 A1.4 1.4 0 0 1 17.7 4.5 L10.5 11.7 Z" fill="none" stroke="#131722" stroke-width="1.1"/></svg>
<svg class="abs" style="left:1782.5px;top:657.0px" width="22" height="6" viewBox="0 0 22 6"><circle cx="3.9" cy="3" r="1.9" fill="none" stroke="#131722" stroke-width="1.15"/><circle cx="11" cy="3" r="1.9" fill="none" stroke="#131722" stroke-width="1.15"/><circle cx="18.1" cy="3" r="1.9" fill="none" stroke="#131722" stroke-width="1.15"/></svg>
<div class="t" style="top:687.30px;font-size:13px;line-height:15px;color:#131722;letter-spacing:-0.358px;left:1549.00px;">Silver / U.S. Dollar</div>
<svg class="abs" style="left:1654.2px;top:688.7px" width="12" height="12" viewBox="0 0 12 12"><path d="M4.5 0.5 H0.5 V11.5 H11.5 V7.5" fill="none" stroke="#787b86" stroke-width="1"/><path d="M7 0.5 H11.5 V5 M11.5 0.5 L6 6" fill="none" stroke="#787b86" stroke-width="1"/></svg>
<div class="box" style="left:1672px;top:694px;width:3px;height:3px;background:#9598a1;border-radius:50%"></div>
<div class="t" style="top:687.30px;font-size:13px;line-height:15px;color:#131722;letter-spacing:-0.300px;transform:scaleX(0.8032);transform-origin:0 0;left:1681.40px;">TRADU</div>
<div class="t" style="top:709.30px;font-size:13px;line-height:15px;color:#9598a1;letter-spacing:-0.300px;transform:scaleX(0.9441);transform-origin:0 0;left:1549.00px;">Commodity</div>
<div class="box" style="left:1614px;top:716px;width:3px;height:3px;background:#b2b5be;border-radius:50%"></div>
<div class="t" style="top:709.30px;font-size:13px;line-height:15px;color:#9598a1;letter-spacing:-0.300px;transform:scaleX(0.8711);transform-origin:0 0;left:1624.50px;">Cfd</div>
<div class="t" style="top:741.50px;font-size:28px;line-height:31px;color:#131722;letter-spacing:0.711px;font-weight:bold;left:1550.70px;"><span style="color:#131722">31.6</span><span style="color:#cf2f3e">79</span></div>
<div class="t" style="top:755.50px;font-size:12px;line-height:14px;color:#131722;letter-spacing:-0.300px;transform:scaleX(0.8206);transform-origin:0 0;left:1645.70px;">USD</div>
<div class="t" style="top:752.70px;font-size:15.5px;line-height:17px;color:#cf2f3e;letter-spacing:0.772px;font-weight:bold;left:1674.90px;">−0.215</div>
<div class="t" style="top:752.70px;font-size:15.5px;line-height:17px;color:#cf2f3e;letter-spacing:0.080px;font-weight:bold;left:1736.20px;">−0.67%</div>
<div class="box" style="left:1553.8px;top:780px;width:8.400000000000091px;height:8.399999999999977px;background:#089981;border-radius:50%"></div>
<div class="t" style="top:776.30px;font-size:14px;line-height:16px;color:#089981;letter-spacing:-0.300px;transform:scaleX(0.9783);transform-origin:0 0;left:1566.70px;">Market open</div>
<div class="box" style="left:1549px;top:805px;width:255px;height:26px;background:#e9e2f5;border-radius:6px"></div>
<svg class="abs" style="left:1559.0px;top:812.0px" width="10" height="12" viewBox="0 0 10 12"><path d="M6 0.5 L1 7 H4.5 L3.5 11.5 L9 4.8 H5.3 Z" fill="#7e3fb8"/></svg>
<div class="t" style="top:810.50px;font-size:13px;line-height:15px;color:#131722;letter-spacing:-0.300px;transform:scaleX(0.9577);transform-origin:0 0;left:1577.00px;">39 minutes ago</div>
<div class="box" style="left:1664.7px;top:817px;width:3.0px;height:3px;background:#9598a1;border-radius:50%"></div>
<div class="t" style="top:810.50px;font-size:13px;line-height:15px;color:#131722;letter-spacing:-0.300px;transform:scaleX(0.9510);transform-origin:0 0;left:1674.40px;">Silver Pulls Back</div>
<svg class="abs" style="left:1785px;top:813px" width="8" height="10" viewBox="0 0 8 10"><path d="M2 1.5 L5.5 5 L2 8.5" fill="none" stroke="#131722" stroke-width="1.2"/></svg>
<div class="t" style="top:855.00px;font-size:14px;line-height:16px;color:#131722;letter-spacing:-0.300px;font-weight:bold;transform:scaleX(0.8764);transform-origin:0 0;left:1549.00px;">Seasonals</div>
<div class="box" style="left:1530px;top:832px;width:8px;height:24px;background:#fff;border:1px solid #e0e3eb;border-radius:3px"></div>
<svg class="abs" style="left:1531px;top:838px" width="6" height="10" viewBox="0 0 6 10"><path d="M1.5 1.5 L4.5 5 L1.5 8.5" fill="none" stroke="#b2b5be" stroke-width="1"/></svg>
<div class="box" style="left:1820px;top:2px;width:1px;height:877px;background:#e4e6ed"></div>
<div class="box" style="left:1824.5px;top:12px;width:1.5px;height:28px;background:#dbe6fb"></div>
</body></html>
